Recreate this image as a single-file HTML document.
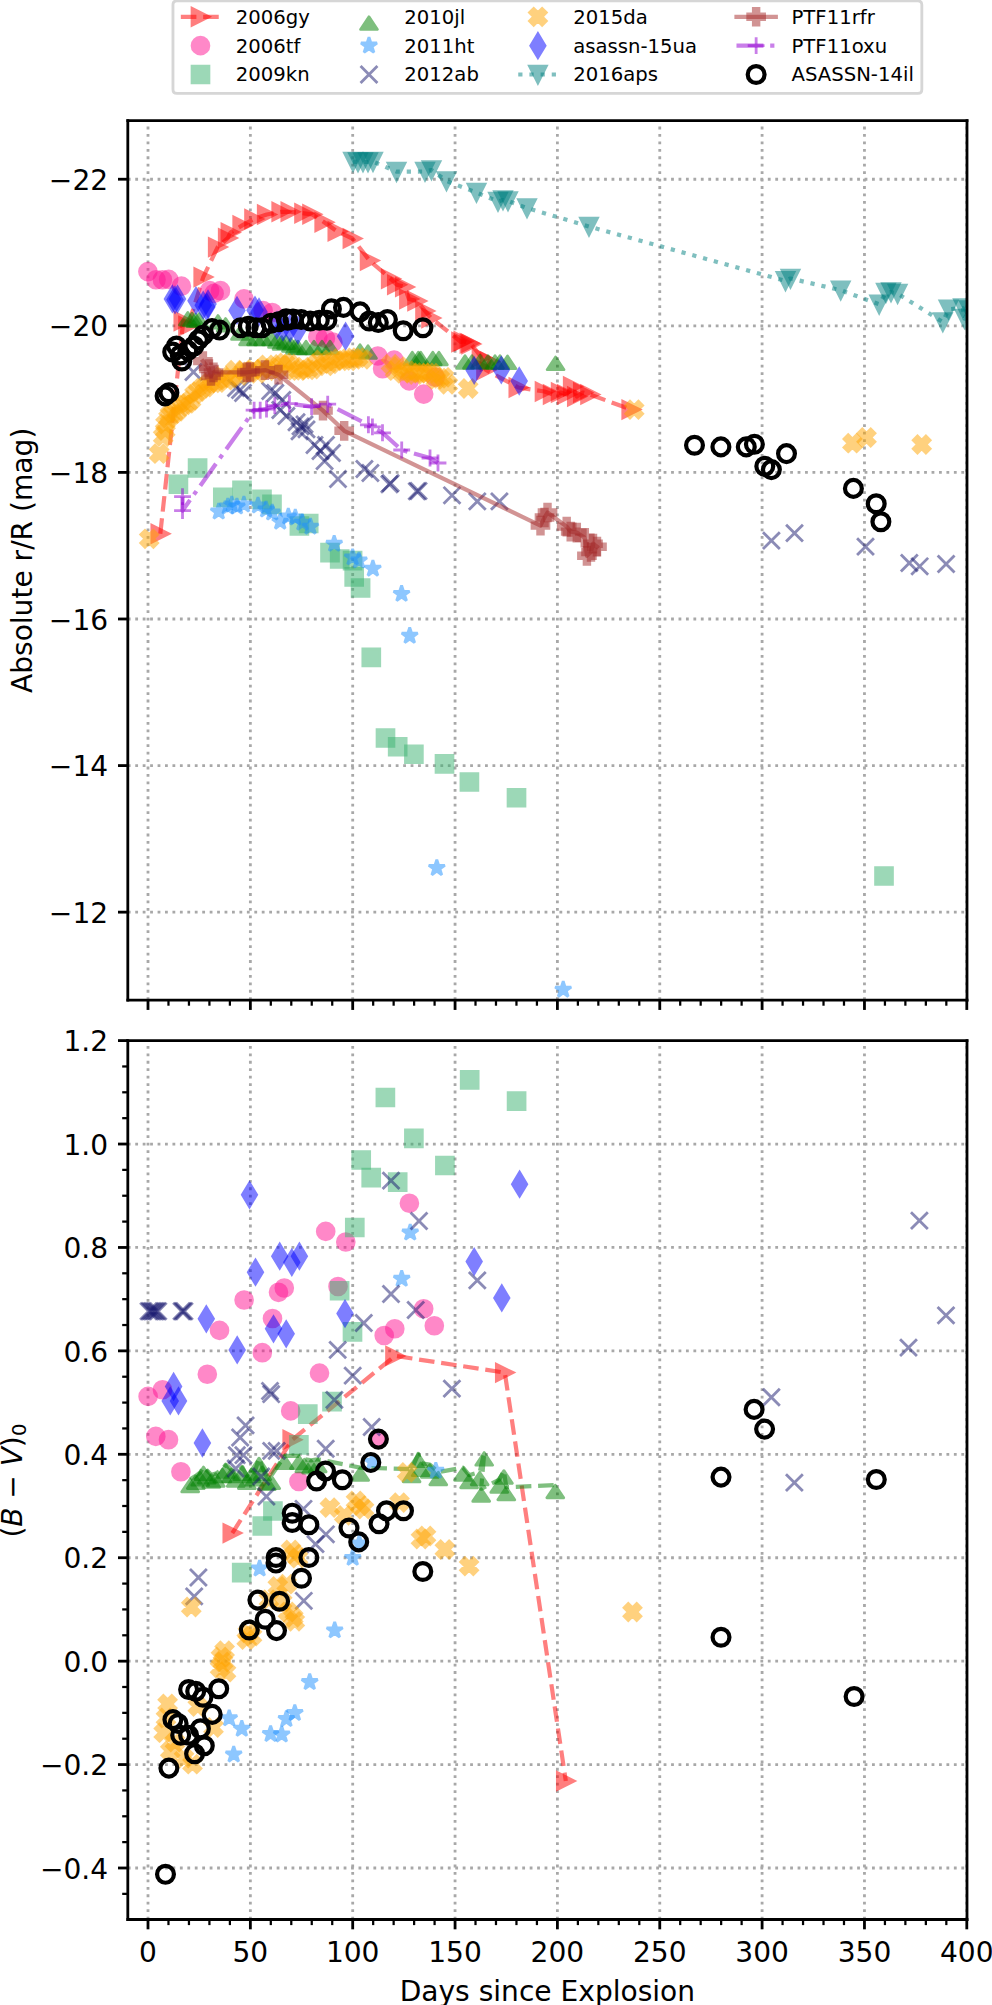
<!DOCTYPE html>
<html lang="en"><head><meta charset="utf-8"><title>Light curves and colour evolution</title>
<style>html,body{margin:0;padding:0;background:#fff}body{width:992px;height:2005px;overflow:hidden}svg{display:block}text{font-family:"DejaVu Sans","Liberation Sans",sans-serif}
.k0{stroke:#000000}.k1{stroke:#000000;stroke-width:0.8}.k2{fill:#ff0000;stroke:#ff0000;stroke-linejoin:miter;opacity:0.5}.k3{fill:#ff1493;stroke:#ff1493;opacity:0.5}.k4{fill:#3cb371;stroke:#3cb371;stroke-linejoin:miter;opacity:0.5}.k5{fill:#008000;stroke:#008000;opacity:0.5}.k6{fill:#1e90ff;stroke:#1e90ff;stroke-linejoin:bevel;opacity:0.5}.k7{fill:#191970;stroke:#191970;opacity:0.5}.k8{fill:#ffa500;stroke:#ffa500;stroke-linejoin:miter;opacity:0.5}.k9{fill:#0000ff;stroke:#0000ff;stroke-linejoin:miter;opacity:0.5}.k10{fill:#008080;stroke:#008080;stroke-linejoin:miter;opacity:0.5}.k11{fill:#a52a2a;stroke:#a52a2a;stroke-linejoin:miter;opacity:0.5}.k12{fill:#9400d3;stroke:#9400d3;opacity:0.5}.k13{stroke:#000000;stroke-width:1.5;fill:none}</style>
</head><body>
<svg width="992" height="2005" viewBox="0 0 353.234421 713.946588" version="1.1">
 <defs>
  <style type="text/css">*{stroke-linejoin: round; stroke-linecap: butt}</style>
 </defs>
 <g id="figure_1">
  <g id="patch_1">
   <path d="M 0 713.95 L 353.23 713.95 L 353.23 0 L 0 0 z" style="fill: #ffffff"/>
  </g>
  <g id="axes_1">
   <g id="patch_2">
    <path d="M 45.51 356.12 L 344.33 356.12 L 344.33 42.94 L 45.51 42.94 z" style="fill: #ffffff"/>
   </g>
   <g id="matplotlib.axis_1">
    <g id="xtick_1">
     <g id="line2d_1">
      <path d="M 52.7 356.12 L 52.7 42.94" clip-path="url(#p0af4753f2d)" style="fill: none; stroke-dasharray: 1,1.65; stroke-dashoffset: 0; stroke: #a8a8a8"/>
     </g>
     <g id="line2d_2">
      <g>
       <path class="k0" d="M 0 0 L 0 3.5" transform="translate(52.7 356.12)"/>
      </g>
     </g>
    </g>
    <g id="xtick_2">
     <g id="line2d_3">
      <path d="M 89.15 356.12 L 89.15 42.94" clip-path="url(#p0af4753f2d)" style="fill: none; stroke-dasharray: 1,1.65; stroke-dashoffset: 0; stroke: #a8a8a8"/>
     </g>
     <g id="line2d_4">
      <g>
       <path class="k0" d="M 0 0 L 0 3.5" transform="translate(89.15 356.12)"/>
      </g>
     </g>
    </g>
    <g id="xtick_3">
     <g id="line2d_5">
      <path d="M 125.59 356.12 L 125.59 42.94" clip-path="url(#p0af4753f2d)" style="fill: none; stroke-dasharray: 1,1.65; stroke-dashoffset: 0; stroke: #a8a8a8"/>
     </g>
     <g id="line2d_6">
      <g>
       <path class="k0" d="M 0 0 L 0 3.5" transform="translate(125.59 356.12)"/>
      </g>
     </g>
    </g>
    <g id="xtick_4">
     <g id="line2d_7">
      <path d="M 162.04 356.12 L 162.04 42.94" clip-path="url(#p0af4753f2d)" style="fill: none; stroke-dasharray: 1,1.65; stroke-dashoffset: 0; stroke: #a8a8a8"/>
     </g>
     <g id="line2d_8">
      <g>
       <path class="k0" d="M 0 0 L 0 3.5" transform="translate(162.04 356.12)"/>
      </g>
     </g>
    </g>
    <g id="xtick_5">
     <g id="line2d_9">
      <path d="M 198.48 356.12 L 198.48 42.94" clip-path="url(#p0af4753f2d)" style="fill: none; stroke-dasharray: 1,1.65; stroke-dashoffset: 0; stroke: #a8a8a8"/>
     </g>
     <g id="line2d_10">
      <g>
       <path class="k0" d="M 0 0 L 0 3.5" transform="translate(198.48 356.12)"/>
      </g>
     </g>
    </g>
    <g id="xtick_6">
     <g id="line2d_11">
      <path d="M 234.93 356.12 L 234.93 42.94" clip-path="url(#p0af4753f2d)" style="fill: none; stroke-dasharray: 1,1.65; stroke-dashoffset: 0; stroke: #a8a8a8"/>
     </g>
     <g id="line2d_12">
      <g>
       <path class="k0" d="M 0 0 L 0 3.5" transform="translate(234.93 356.12)"/>
      </g>
     </g>
    </g>
    <g id="xtick_7">
     <g id="line2d_13">
      <path d="M 271.37 356.12 L 271.37 42.94" clip-path="url(#p0af4753f2d)" style="fill: none; stroke-dasharray: 1,1.65; stroke-dashoffset: 0; stroke: #a8a8a8"/>
     </g>
     <g id="line2d_14">
      <g>
       <path class="k0" d="M 0 0 L 0 3.5" transform="translate(271.37 356.12)"/>
      </g>
     </g>
    </g>
    <g id="xtick_8">
     <g id="line2d_15">
      <path d="M 307.82 356.12 L 307.82 42.94" clip-path="url(#p0af4753f2d)" style="fill: none; stroke-dasharray: 1,1.65; stroke-dashoffset: 0; stroke: #a8a8a8"/>
     </g>
     <g id="line2d_16">
      <g>
       <path class="k0" d="M 0 0 L 0 3.5" transform="translate(307.82 356.12)"/>
      </g>
     </g>
    </g>
    <g id="xtick_9">
     <g id="line2d_17">
      <path d="M 344.26 356.12 L 344.26 42.94" clip-path="url(#p0af4753f2d)" style="fill: none; stroke-dasharray: 1,1.65; stroke-dashoffset: 0; stroke: #a8a8a8"/>
     </g>
     <g id="line2d_18">
      <g>
       <path class="k0" d="M 0 0 L 0 3.5" transform="translate(344.26 356.12)"/>
      </g>
     </g>
    </g>
    <g id="xtick_10">
     <g id="line2d_19">
      <g>
       <path class="k1" d="M 0 0 L 0 2" transform="translate(59.99 356.12)"/>
      </g>
     </g>
    </g>
    <g id="xtick_11">
     <g id="line2d_20">
      <g>
       <path class="k1" d="M 0 0 L 0 2" transform="translate(67.28 356.12)"/>
      </g>
     </g>
    </g>
    <g id="xtick_12">
     <g id="line2d_21">
      <g>
       <path class="k1" d="M 0 0 L 0 2" transform="translate(74.57 356.12)"/>
      </g>
     </g>
    </g>
    <g id="xtick_13">
     <g id="line2d_22">
      <g>
       <path class="k1" d="M 0 0 L 0 2" transform="translate(81.86 356.12)"/>
      </g>
     </g>
    </g>
    <g id="xtick_14">
     <g id="line2d_23">
      <g>
       <path class="k1" d="M 0 0 L 0 2" transform="translate(96.43 356.12)"/>
      </g>
     </g>
    </g>
    <g id="xtick_15">
     <g id="line2d_24">
      <g>
       <path class="k1" d="M 0 0 L 0 2" transform="translate(103.72 356.12)"/>
      </g>
     </g>
    </g>
    <g id="xtick_16">
     <g id="line2d_25">
      <g>
       <path class="k1" d="M 0 0 L 0 2" transform="translate(111.01 356.12)"/>
      </g>
     </g>
    </g>
    <g id="xtick_17">
     <g id="line2d_26">
      <g>
       <path class="k1" d="M 0 0 L 0 2" transform="translate(118.3 356.12)"/>
      </g>
     </g>
    </g>
    <g id="xtick_18">
     <g id="line2d_27">
      <g>
       <path class="k1" d="M 0 0 L 0 2" transform="translate(132.88 356.12)"/>
      </g>
     </g>
    </g>
    <g id="xtick_19">
     <g id="line2d_28">
      <g>
       <path class="k1" d="M 0 0 L 0 2" transform="translate(140.17 356.12)"/>
      </g>
     </g>
    </g>
    <g id="xtick_20">
     <g id="line2d_29">
      <g>
       <path class="k1" d="M 0 0 L 0 2" transform="translate(147.46 356.12)"/>
      </g>
     </g>
    </g>
    <g id="xtick_21">
     <g id="line2d_30">
      <g>
       <path class="k1" d="M 0 0 L 0 2" transform="translate(154.75 356.12)"/>
      </g>
     </g>
    </g>
    <g id="xtick_22">
     <g id="line2d_31">
      <g>
       <path class="k1" d="M 0 0 L 0 2" transform="translate(169.32 356.12)"/>
      </g>
     </g>
    </g>
    <g id="xtick_23">
     <g id="line2d_32">
      <g>
       <path class="k1" d="M 0 0 L 0 2" transform="translate(176.61 356.12)"/>
      </g>
     </g>
    </g>
    <g id="xtick_24">
     <g id="line2d_33">
      <g>
       <path class="k1" d="M 0 0 L 0 2" transform="translate(183.9 356.12)"/>
      </g>
     </g>
    </g>
    <g id="xtick_25">
     <g id="line2d_34">
      <g>
       <path class="k1" d="M 0 0 L 0 2" transform="translate(191.19 356.12)"/>
      </g>
     </g>
    </g>
    <g id="xtick_26">
     <g id="line2d_35">
      <g>
       <path class="k1" d="M 0 0 L 0 2" transform="translate(205.77 356.12)"/>
      </g>
     </g>
    </g>
    <g id="xtick_27">
     <g id="line2d_36">
      <g>
       <path class="k1" d="M 0 0 L 0 2" transform="translate(213.06 356.12)"/>
      </g>
     </g>
    </g>
    <g id="xtick_28">
     <g id="line2d_37">
      <g>
       <path class="k1" d="M 0 0 L 0 2" transform="translate(220.35 356.12)"/>
      </g>
     </g>
    </g>
    <g id="xtick_29">
     <g id="line2d_38">
      <g>
       <path class="k1" d="M 0 0 L 0 2" transform="translate(227.64 356.12)"/>
      </g>
     </g>
    </g>
    <g id="xtick_30">
     <g id="line2d_39">
      <g>
       <path class="k1" d="M 0 0 L 0 2" transform="translate(242.21 356.12)"/>
      </g>
     </g>
    </g>
    <g id="xtick_31">
     <g id="line2d_40">
      <g>
       <path class="k1" d="M 0 0 L 0 2" transform="translate(249.5 356.12)"/>
      </g>
     </g>
    </g>
    <g id="xtick_32">
     <g id="line2d_41">
      <g>
       <path class="k1" d="M 0 0 L 0 2" transform="translate(256.79 356.12)"/>
      </g>
     </g>
    </g>
    <g id="xtick_33">
     <g id="line2d_42">
      <g>
       <path class="k1" d="M 0 0 L 0 2" transform="translate(264.08 356.12)"/>
      </g>
     </g>
    </g>
    <g id="xtick_34">
     <g id="line2d_43">
      <g>
       <path class="k1" d="M 0 0 L 0 2" transform="translate(278.66 356.12)"/>
      </g>
     </g>
    </g>
    <g id="xtick_35">
     <g id="line2d_44">
      <g>
       <path class="k1" d="M 0 0 L 0 2" transform="translate(285.95 356.12)"/>
      </g>
     </g>
    </g>
    <g id="xtick_36">
     <g id="line2d_45">
      <g>
       <path class="k1" d="M 0 0 L 0 2" transform="translate(293.24 356.12)"/>
      </g>
     </g>
    </g>
    <g id="xtick_37">
     <g id="line2d_46">
      <g>
       <path class="k1" d="M 0 0 L 0 2" transform="translate(300.53 356.12)"/>
      </g>
     </g>
    </g>
    <g id="xtick_38">
     <g id="line2d_47">
      <g>
       <path class="k1" d="M 0 0 L 0 2" transform="translate(315.11 356.12)"/>
      </g>
     </g>
    </g>
    <g id="xtick_39">
     <g id="line2d_48">
      <g>
       <path class="k1" d="M 0 0 L 0 2" transform="translate(322.39 356.12)"/>
      </g>
     </g>
    </g>
    <g id="xtick_40">
     <g id="line2d_49">
      <g>
       <path class="k1" d="M 0 0 L 0 2" transform="translate(329.68 356.12)"/>
      </g>
     </g>
    </g>
    <g id="xtick_41">
     <g id="line2d_50">
      <g>
       <path class="k1" d="M 0 0 L 0 2" transform="translate(336.97 356.12)"/>
      </g>
     </g>
    </g>
   </g>
   <g id="matplotlib.axis_2">
    <g id="ytick_1">
     <g id="line2d_51">
      <path d="M 45.51 63.82 L 344.33 63.82" clip-path="url(#p0af4753f2d)" style="fill: none; stroke-dasharray: 1,1.65; stroke-dashoffset: 0; stroke: #a8a8a8"/>
     </g>
     <g id="line2d_52">
      <g>
       <path class="k0" d="M 0 0 L -3.5 0" transform="translate(45.51 63.82)"/>
      </g>
     </g>
     <g id="text_1">
      <text style="font-size: 10px; font-family: 'DejaVu Sans', 'Liberation Sans', sans-serif; text-anchor: end" x="38.51" y="67.62"  transform="rotate(0 38.51 67.62)">−22</text>
     </g>
    </g>
    <g id="ytick_2">
     <g id="line2d_53">
      <path d="M 45.51 116.02 L 344.33 116.02" clip-path="url(#p0af4753f2d)" style="fill: none; stroke-dasharray: 1,1.65; stroke-dashoffset: 0; stroke: #a8a8a8"/>
     </g>
     <g id="line2d_54">
      <g>
       <path class="k0" d="M 0 0 L -3.5 0" transform="translate(45.51 116.02)"/>
      </g>
     </g>
     <g id="text_2">
      <text style="font-size: 10px; font-family: 'DejaVu Sans', 'Liberation Sans', sans-serif; text-anchor: end" x="38.51" y="119.82"  transform="rotate(0 38.51 119.82)">−20</text>
     </g>
    </g>
    <g id="ytick_3">
     <g id="line2d_55">
      <path d="M 45.51 168.21 L 344.33 168.21" clip-path="url(#p0af4753f2d)" style="fill: none; stroke-dasharray: 1,1.65; stroke-dashoffset: 0; stroke: #a8a8a8"/>
     </g>
     <g id="line2d_56">
      <g>
       <path class="k0" d="M 0 0 L -3.5 0" transform="translate(45.51 168.21)"/>
      </g>
     </g>
     <g id="text_3">
      <text style="font-size: 10px; font-family: 'DejaVu Sans', 'Liberation Sans', sans-serif; text-anchor: end" x="38.51" y="172.01"  transform="rotate(0 38.51 172.01)">−18</text>
     </g>
    </g>
    <g id="ytick_4">
     <g id="line2d_57">
      <path d="M 45.51 220.41 L 344.33 220.41" clip-path="url(#p0af4753f2d)" style="fill: none; stroke-dasharray: 1,1.65; stroke-dashoffset: 0; stroke: #a8a8a8"/>
     </g>
     <g id="line2d_58">
      <g>
       <path class="k0" d="M 0 0 L -3.5 0" transform="translate(45.51 220.41)"/>
      </g>
     </g>
     <g id="text_4">
      <text style="font-size: 10px; font-family: 'DejaVu Sans', 'Liberation Sans', sans-serif; text-anchor: end" x="38.51" y="224.21"  transform="rotate(0 38.51 224.21)">−16</text>
     </g>
    </g>
    <g id="ytick_5">
     <g id="line2d_59">
      <path d="M 45.51 272.61 L 344.33 272.61" clip-path="url(#p0af4753f2d)" style="fill: none; stroke-dasharray: 1,1.65; stroke-dashoffset: 0; stroke: #a8a8a8"/>
     </g>
     <g id="line2d_60">
      <g>
       <path class="k0" d="M 0 0 L -3.5 0" transform="translate(45.51 272.61)"/>
      </g>
     </g>
     <g id="text_5">
      <text style="font-size: 10px; font-family: 'DejaVu Sans', 'Liberation Sans', sans-serif; text-anchor: end" x="38.51" y="276.4"  transform="rotate(0 38.51 276.40)">−14</text>
     </g>
    </g>
    <g id="ytick_6">
     <g id="line2d_61">
      <path d="M 45.51 324.8 L 344.33 324.8" clip-path="url(#p0af4753f2d)" style="fill: none; stroke-dasharray: 1,1.65; stroke-dashoffset: 0; stroke: #a8a8a8"/>
     </g>
     <g id="line2d_62">
      <g>
       <path class="k0" d="M 0 0 L -3.5 0" transform="translate(45.51 324.8)"/>
      </g>
     </g>
     <g id="text_6">
      <text style="font-size: 10px; font-family: 'DejaVu Sans', 'Liberation Sans', sans-serif; text-anchor: end" x="38.51" y="328.6"  transform="rotate(0 38.51 328.60)">−12</text>
     </g>
    </g>
    <g id="text_7">
     <text style="font-size: 10px; font-family: 'DejaVu Sans', 'Liberation Sans', sans-serif; text-anchor: middle" x="11.51" y="199.53" transform="rotate(-90 11.51 199.53)">Absolute r/R (mag)</text>
    </g>
   </g>
   <g id="line2d_63">
    <path d="M 57.08 190.08 L 65.27 114.3 L 66.94 116.08 L 72.36 98.67 L 77.52 87.99 L 81.08 84.78 L 82.04 82.82 L 86.24 80.26 L 90.45 77.98 L 94.97 76.38 L 100.13 75.42 L 103.37 75.42 L 108.25 75.95 L 111.1 76.31 L 115.44 79.16 L 120.11 82.4 L 125.48 84.93 L 131.61 92.8 L 139.12 99.28 L 141.29 101.41 L 144.14 102.16 L 145.6 106.47 L 148.49 107.18 L 151.34 110.74 L 153.47 113.23 L 164.15 121.78 L 164.97 121.53 L 167.15 122.24 L 167.72 122.49 L 171.45 127.26 L 174.3 128.72 L 173.06 131.75 L 184.56 137.98 L 193.89 139.41 L 196.77 140.47 L 199.62 139.76 L 201.79 140.47 L 203.93 137.63 L 205.39 141.19 L 207.53 139.76 L 210.09 140.47 L 224.76 145.85" clip-path="url(#p0af4753f2d)" style="fill: none; stroke-dasharray: 5.55,2.4; stroke-dashoffset: 0; stroke: #ff0000; stroke-opacity: 0.5; stroke-width: 1.5"/>
    <g clip-path="url(#p0af4753f2d)">
     <path class="k2" d="M 3 0 L -3 -3 L -3 3 z" transform="translate(57.08 190.08)"/>
     <path class="k2" d="M 3 0 L -3 -3 L -3 3 z" transform="translate(65.27 114.3)"/>
     <path class="k2" d="M 3 0 L -3 -3 L -3 3 z" transform="translate(66.94 116.08)"/>
     <path class="k2" d="M 3 0 L -3 -3 L -3 3 z" transform="translate(72.36 98.67)"/>
     <path class="k2" d="M 3 0 L -3 -3 L -3 3 z" transform="translate(77.52 87.99)"/>
     <path class="k2" d="M 3 0 L -3 -3 L -3 3 z" transform="translate(81.08 84.78)"/>
     <path class="k2" d="M 3 0 L -3 -3 L -3 3 z" transform="translate(82.04 82.82)"/>
     <path class="k2" d="M 3 0 L -3 -3 L -3 3 z" transform="translate(86.24 80.26)"/>
     <path class="k2" d="M 3 0 L -3 -3 L -3 3 z" transform="translate(90.45 77.98)"/>
     <path class="k2" d="M 3 0 L -3 -3 L -3 3 z" transform="translate(94.97 76.38)"/>
     <path class="k2" d="M 3 0 L -3 -3 L -3 3 z" transform="translate(100.13 75.42)"/>
     <path class="k2" d="M 3 0 L -3 -3 L -3 3 z" transform="translate(103.37 75.42)"/>
     <path class="k2" d="M 3 0 L -3 -3 L -3 3 z" transform="translate(108.25 75.95)"/>
     <path class="k2" d="M 3 0 L -3 -3 L -3 3 z" transform="translate(111.1 76.31)"/>
     <path class="k2" d="M 3 0 L -3 -3 L -3 3 z" transform="translate(115.44 79.16)"/>
     <path class="k2" d="M 3 0 L -3 -3 L -3 3 z" transform="translate(120.11 82.4)"/>
     <path class="k2" d="M 3 0 L -3 -3 L -3 3 z" transform="translate(125.48 84.93)"/>
     <path class="k2" d="M 3 0 L -3 -3 L -3 3 z" transform="translate(131.61 92.8)"/>
     <path class="k2" d="M 3 0 L -3 -3 L -3 3 z" transform="translate(139.12 99.28)"/>
     <path class="k2" d="M 3 0 L -3 -3 L -3 3 z" transform="translate(141.29 101.41)"/>
     <path class="k2" d="M 3 0 L -3 -3 L -3 3 z" transform="translate(144.14 102.16)"/>
     <path class="k2" d="M 3 0 L -3 -3 L -3 3 z" transform="translate(145.6 106.47)"/>
     <path class="k2" d="M 3 0 L -3 -3 L -3 3 z" transform="translate(148.49 107.18)"/>
     <path class="k2" d="M 3 0 L -3 -3 L -3 3 z" transform="translate(151.34 110.74)"/>
     <path class="k2" d="M 3 0 L -3 -3 L -3 3 z" transform="translate(153.47 113.23)"/>
     <path class="k2" d="M 3 0 L -3 -3 L -3 3 z" transform="translate(164.15 121.78)"/>
     <path class="k2" d="M 3 0 L -3 -3 L -3 3 z" transform="translate(164.97 121.53)"/>
     <path class="k2" d="M 3 0 L -3 -3 L -3 3 z" transform="translate(167.15 122.24)"/>
     <path class="k2" d="M 3 0 L -3 -3 L -3 3 z" transform="translate(167.72 122.49)"/>
     <path class="k2" d="M 3 0 L -3 -3 L -3 3 z" transform="translate(171.45 127.26)"/>
     <path class="k2" d="M 3 0 L -3 -3 L -3 3 z" transform="translate(174.3 128.72)"/>
     <path class="k2" d="M 3 0 L -3 -3 L -3 3 z" transform="translate(173.06 131.75)"/>
     <path class="k2" d="M 3 0 L -3 -3 L -3 3 z" transform="translate(184.56 137.98)"/>
     <path class="k2" d="M 3 0 L -3 -3 L -3 3 z" transform="translate(193.89 139.41)"/>
     <path class="k2" d="M 3 0 L -3 -3 L -3 3 z" transform="translate(196.77 140.47)"/>
     <path class="k2" d="M 3 0 L -3 -3 L -3 3 z" transform="translate(199.62 139.76)"/>
     <path class="k2" d="M 3 0 L -3 -3 L -3 3 z" transform="translate(201.79 140.47)"/>
     <path class="k2" d="M 3 0 L -3 -3 L -3 3 z" transform="translate(203.93 137.63)"/>
     <path class="k2" d="M 3 0 L -3 -3 L -3 3 z" transform="translate(205.39 141.19)"/>
     <path class="k2" d="M 3 0 L -3 -3 L -3 3 z" transform="translate(207.53 139.76)"/>
     <path class="k2" d="M 3 0 L -3 -3 L -3 3 z" transform="translate(210.09 140.47)"/>
     <path class="k2" d="M 3 0 L -3 -3 L -3 3 z" transform="translate(224.76 145.85)"/>
    </g>
   </g>
   <g id="line2d_64">
    <g clip-path="url(#p0af4753f2d)">
     <circle class="k3" cx="52.66" cy="96.71" r="3"/>
     <circle class="k3" cx="55.55" cy="99.63" r="3"/>
     <circle class="k3" cx="57.83" cy="99.63" r="3"/>
     <circle class="k3" cx="60.07" cy="99.49" r="3"/>
     <circle class="k3" cx="64.59" cy="101.91" r="3"/>
     <circle class="k3" cx="74.64" cy="103.51" r="3"/>
     <circle class="k3" cx="76.24" cy="104.47" r="3"/>
     <circle class="k3" cx="78.52" cy="103.51" r="3"/>
     <circle class="k3" cx="86.88" cy="106.43" r="3"/>
     <circle class="k3" cx="93.69" cy="110.6" r="3"/>
     <circle class="k3" cx="96.93" cy="111.28" r="3"/>
     <circle class="k3" cx="113.16" cy="119.96" r="3"/>
     <circle class="k3" cx="115.87" cy="120.5" r="3"/>
     <circle class="k3" cx="118.54" cy="121.85" r="3"/>
     <circle class="k3" cx="134.53" cy="126.77" r="3"/>
     <circle class="k3" cx="136.24" cy="131.29" r="3"/>
     <circle class="k3" cx="140.33" cy="128.26" r="3"/>
     <circle class="k3" cx="145.71" cy="135.6" r="3"/>
     <circle class="k3" cx="150.87" cy="140.33" r="3"/>
     <circle class="k3" cx="154.97" cy="134.31" r="3"/>
    </g>
   </g>
   <g id="line2d_65">
    <g clip-path="url(#p0af4753f2d)">
     <path class="k4" d="M -3 3 L 3 3 L 3 -3 L -3 -3 z" transform="translate(63.53 172.42)"/>
     <path class="k4" d="M -3 3 L 3 3 L 3 -3 L -3 -3 z" transform="translate(70.36 166.65)"/>
     <path class="k4" d="M -3 3 L 3 3 L 3 -3 L -3 -3 z" transform="translate(79.34 177.08)"/>
     <path class="k4" d="M -3 3 L 3 3 L 3 -3 L -3 -3 z" transform="translate(86.17 174.59)"/>
     <path class="k4" d="M -3 3 L 3 3 L 3 -3 L -3 -3 z" transform="translate(93.29 177.83)"/>
     <path class="k4" d="M -3 3 L 3 3 L 3 -3 L -3 -3 z" transform="translate(96.85 179.61)"/>
     <path class="k4" d="M -3 3 L 3 3 L 3 -3 L -3 -3 z" transform="translate(106.61 187.3)"/>
     <path class="k4" d="M -3 3 L 3 3 L 3 -3 L -3 -3 z" transform="translate(109.92 186.41)"/>
     <path class="k4" d="M -3 3 L 3 3 L 3 -3 L -3 -3 z" transform="translate(117.51 196.77)"/>
     <path class="k4" d="M -3 3 L 3 3 L 3 -3 L -3 -3 z" transform="translate(120.96 199.05)"/>
     <path class="k4" d="M -3 3 L 3 3 L 3 -3 L -3 -3 z" transform="translate(125.55 199.62)"/>
     <path class="k4" d="M -3 3 L 3 3 L 3 -3 L -3 -3 z" transform="translate(126.12 205.39)"/>
     <path class="k4" d="M -3 3 L 3 3 L 3 -3 L -3 -3 z" transform="translate(128.4 209.38)"/>
     <path class="k4" d="M -3 3 L 3 3 L 3 -3 L -3 -3 z" transform="translate(132.21 234.09)"/>
     <path class="k4" d="M -3 3 L 3 3 L 3 -3 L -3 -3 z" transform="translate(137.27 262.79)"/>
     <path class="k4" d="M -3 3 L 3 3 L 3 -3 L -3 -3 z" transform="translate(141.61 265.92)"/>
     <path class="k4" d="M -3 3 L 3 3 L 3 -3 L -3 -3 z" transform="translate(147.38 268.56)"/>
     <path class="k4" d="M -3 3 L 3 3 L 3 -3 L -3 -3 z" transform="translate(158.28 272.01)"/>
     <path class="k4" d="M -3 3 L 3 3 L 3 -3 L -3 -3 z" transform="translate(167.15 278.46)"/>
     <path class="k4" d="M -3 3 L 3 3 L 3 -3 L -3 -3 z" transform="translate(183.92 284.05)"/>
     <path class="k4" d="M -3 3 L 3 3 L 3 -3 L -3 -3 z" transform="translate(314.78 311.93)"/>
    </g>
   </g>
   <g id="line2d_66">
    <g clip-path="url(#p0af4753f2d)">
     <path class="k5" d="M -3 4.5 L 0 0 L 3 4.5 z" transform="translate(66.87 111.26)"/>
     <path class="k5" d="M -3 4.5 L 0 0 L 3 4.5 z" transform="translate(68.37 111.54)"/>
     <path class="k5" d="M -3 4.5 L 0 0 L 3 4.5 z" transform="translate(69.58 111.79)"/>
     <path class="k5" d="M -3 4.5 L 0 0 L 3 4.5 z" transform="translate(70.86 111.72)"/>
     <path class="k5" d="M -3 4.5 L 0 0 L 3 4.5 z" transform="translate(77.63 112.36)"/>
     <path class="k5" d="M -3 4.5 L 0 0 L 3 4.5 z" transform="translate(80.33 113.43)"/>
     <path class="k5" d="M -3 4.5 L 0 0 L 3 4.5 z" transform="translate(85.46 116.35)"/>
     <path class="k5" d="M -3 4.5 L 0 0 L 3 4.5 z" transform="translate(88.31 118.27)"/>
     <path class="k5" d="M -3 4.5 L 0 0 L 3 4.5 z" transform="translate(91.16 118.27)"/>
     <path class="k5" d="M -3 4.5 L 0 0 L 3 4.5 z" transform="translate(93.65 118.27)"/>
     <path class="k5" d="M -3 4.5 L 0 0 L 3 4.5 z" transform="translate(96.5 118.27)"/>
     <path class="k5" d="M -3 4.5 L 0 0 L 3 4.5 z" transform="translate(98.64 119.2)"/>
     <path class="k5" d="M -3 4.5 L 0 0 L 3 4.5 z" transform="translate(100.27 119.91)"/>
     <path class="k5" d="M -3 4.5 L 0 0 L 3 4.5 z" transform="translate(101.84 119.63)"/>
     <path class="k5" d="M -3 4.5 L 0 0 L 3 4.5 z" transform="translate(103.62 120.62)"/>
     <path class="k5" d="M -3 4.5 L 0 0 L 3 4.5 z" transform="translate(105.04 121.34)"/>
     <path class="k5" d="M -3 4.5 L 0 0 L 3 4.5 z" transform="translate(106.11 121.51)"/>
     <path class="k5" d="M -3 4.5 L 0 0 L 3 4.5 z" transform="translate(108.96 121.51)"/>
     <path class="k5" d="M -3 4.5 L 0 0 L 3 4.5 z" transform="translate(111.81 121.51)"/>
     <path class="k5" d="M -3 4.5 L 0 0 L 3 4.5 z" transform="translate(114.66 121.51)"/>
     <path class="k5" d="M -3 4.5 L 0 0 L 3 4.5 z" transform="translate(117.51 121.51)"/>
     <path class="k5" d="M -3 4.5 L 0 0 L 3 4.5 z" transform="translate(128.19 122.76)"/>
     <path class="k5" d="M -3 4.5 L 0 0 L 3 4.5 z" transform="translate(131.04 123.12)"/>
     <path class="k5" d="M -3 4.5 L 0 0 L 3 4.5 z" transform="translate(146.81 125.43)"/>
     <path class="k5" d="M -3 4.5 L 0 0 L 3 4.5 z" transform="translate(148.95 125.43)"/>
     <path class="k5" d="M -3 4.5 L 0 0 L 3 4.5 z" transform="translate(149.8 125.43)"/>
     <path class="k5" d="M -3 4.5 L 0 0 L 3 4.5 z" transform="translate(154.11 125.43)"/>
     <path class="k5" d="M -3 4.5 L 0 0 L 3 4.5 z" transform="translate(156.28 125.43)"/>
     <path class="k5" d="M -3 4.5 L 0 0 L 3 4.5 z" transform="translate(165.58 126.68)"/>
     <path class="k5" d="M -3 4.5 L 0 0 L 3 4.5 z" transform="translate(168.07 126.68)"/>
     <path class="k5" d="M -3 4.5 L 0 0 L 3 4.5 z" transform="translate(170.92 126.5)"/>
     <path class="k5" d="M -3 4.5 L 0 0 L 3 4.5 z" transform="translate(173.77 126.68)"/>
     <path class="k5" d="M -3 4.5 L 0 0 L 3 4.5 z" transform="translate(176.26 126.68)"/>
     <path class="k5" d="M -3 4.5 L 0 0 L 3 4.5 z" transform="translate(178.04 126.68)"/>
     <path class="k5" d="M -3 4.5 L 0 0 L 3 4.5 z" transform="translate(180.71 126.78)"/>
     <path class="k5" d="M -3 4.5 L 0 0 L 3 4.5 z" transform="translate(197.84 127.14)"/>
    </g>
   </g>
   <g id="line2d_67">
    <g clip-path="url(#p0af4753f2d)">
     <path class="k6" d="M 0 -3 L -0.67 -0.93 L -2.85 -0.93 L -1.09 0.35 L -1.76 2.43 L -0 1.15 L 1.76 2.43 L 1.09 0.35 L 2.85 -0.93 L 0.67 -0.93 z" transform="translate(77.88 182.17)"/>
     <path class="k6" d="M 0 -3 L -0.67 -0.93 L -2.85 -0.93 L -1.09 0.35 L -1.76 2.43 L -0 1.15 L 1.76 2.43 L 1.09 0.35 L 2.85 -0.93 L 0.67 -0.93 z" transform="translate(81.12 180.36)"/>
     <path class="k6" d="M 0 -3 L -0.67 -0.93 L -2.85 -0.93 L -1.09 0.35 L -1.76 2.43 L -0 1.15 L 1.76 2.43 L 1.09 0.35 L 2.85 -0.93 L 0.67 -0.93 z" transform="translate(82.54 179.64)"/>
     <path class="k6" d="M 0 -3 L -0.67 -0.93 L -2.85 -0.93 L -1.09 0.35 L -1.76 2.43 L -0 1.15 L 1.76 2.43 L 1.09 0.35 L 2.85 -0.93 L 0.67 -0.93 z" transform="translate(84.36 180.36)"/>
     <path class="k6" d="M 0 -3 L -0.67 -0.93 L -2.85 -0.93 L -1.09 0.35 L -1.76 2.43 L -0 1.15 L 1.76 2.43 L 1.09 0.35 L 2.85 -0.93 L 0.67 -0.93 z" transform="translate(86.85 179.64)"/>
     <path class="k6" d="M 0 -3 L -0.67 -0.93 L -2.85 -0.93 L -1.09 0.35 L -1.76 2.43 L -0 1.15 L 1.76 2.43 L 1.09 0.35 L 2.85 -0.93 L 0.67 -0.93 z" transform="translate(91.87 180)"/>
     <path class="k6" d="M 0 -3 L -0.67 -0.93 L -2.85 -0.93 L -1.09 0.35 L -1.76 2.43 L -0 1.15 L 1.76 2.43 L 1.09 0.35 L 2.85 -0.93 L 0.67 -0.93 z" transform="translate(94.75 181.46)"/>
     <path class="k6" d="M 0 -3 L -0.67 -0.93 L -2.85 -0.93 L -1.09 0.35 L -1.76 2.43 L -0 1.15 L 1.76 2.43 L 1.09 0.35 L 2.85 -0.93 L 0.67 -0.93 z" transform="translate(96.93 182.53)"/>
     <path class="k6" d="M 0 -3 L -0.67 -0.93 L -2.85 -0.93 L -1.09 0.35 L -1.76 2.43 L -0 1.15 L 1.76 2.43 L 1.09 0.35 L 2.85 -0.93 L 0.67 -0.93 z" transform="translate(99.77 185.77)"/>
     <path class="k6" d="M 0 -3 L -0.67 -0.93 L -2.85 -0.93 L -1.09 0.35 L -1.76 2.43 L -0 1.15 L 1.76 2.43 L 1.09 0.35 L 2.85 -0.93 L 0.67 -0.93 z" transform="translate(102.66 183.95)"/>
     <path class="k6" d="M 0 -3 L -0.67 -0.93 L -2.85 -0.93 L -1.09 0.35 L -1.76 2.43 L -0 1.15 L 1.76 2.43 L 1.09 0.35 L 2.85 -0.93 L 0.67 -0.93 z" transform="translate(105.15 184.31)"/>
     <path class="k6" d="M 0 -3 L -0.67 -0.93 L -2.85 -0.93 L -1.09 0.35 L -1.76 2.43 L -0 1.15 L 1.76 2.43 L 1.09 0.35 L 2.85 -0.93 L 0.67 -0.93 z" transform="translate(107.68 186.12)"/>
     <path class="k6" d="M 0 -3 L -0.67 -0.93 L -2.85 -0.93 L -1.09 0.35 L -1.76 2.43 L -0 1.15 L 1.76 2.43 L 1.09 0.35 L 2.85 -0.93 L 0.67 -0.93 z" transform="translate(110.56 187.55)"/>
     <path class="k6" d="M 0 -3 L -0.67 -0.93 L -2.85 -0.93 L -1.09 0.35 L -1.76 2.43 L -0 1.15 L 1.76 2.43 L 1.09 0.35 L 2.85 -0.93 L 0.67 -0.93 z" transform="translate(119 193.67)"/>
     <path class="k6" d="M 0 -3 L -0.67 -0.93 L -2.85 -0.93 L -1.09 0.35 L -1.76 2.43 L -0 1.15 L 1.76 2.43 L 1.09 0.35 L 2.85 -0.93 L 0.67 -0.93 z" transform="translate(125.55 198.48)"/>
     <path class="k6" d="M 0 -3 L -0.67 -0.93 L -2.85 -0.93 L -1.09 0.35 L -1.76 2.43 L -0 1.15 L 1.76 2.43 L 1.09 0.35 L 2.85 -0.93 L 0.67 -0.93 z" transform="translate(127.83 199.62)"/>
     <path class="k6" d="M 0 -3 L -0.67 -0.93 L -2.85 -0.93 L -1.09 0.35 L -1.76 2.43 L -0 1.15 L 1.76 2.43 L 1.09 0.35 L 2.85 -0.93 L 0.67 -0.93 z" transform="translate(132.78 202.5)"/>
     <path class="k6" d="M 0 -3 L -0.67 -0.93 L -2.85 -0.93 L -1.09 0.35 L -1.76 2.43 L -0 1.15 L 1.76 2.43 L 1.09 0.35 L 2.85 -0.93 L 0.67 -0.93 z" transform="translate(143 211.48)"/>
     <path class="k6" d="M 0 -3 L -0.67 -0.93 L -2.85 -0.93 L -1.09 0.35 L -1.76 2.43 L -0 1.15 L 1.76 2.43 L 1.09 0.35 L 2.85 -0.93 L 0.67 -0.93 z" transform="translate(145.89 226.4)"/>
     <path class="k6" d="M 0 -3 L -0.67 -0.93 L -2.85 -0.93 L -1.09 0.35 L -1.76 2.43 L -0 1.15 L 1.76 2.43 L 1.09 0.35 L 2.85 -0.93 L 0.67 -0.93 z" transform="translate(155.54 309.08)"/>
     <path class="k6" d="M 0 -3 L -0.67 -0.93 L -2.85 -0.93 L -1.09 0.35 L -1.76 2.43 L -0 1.15 L 1.76 2.43 L 1.09 0.35 L 2.85 -0.93 L 0.67 -0.93 z" transform="translate(200.55 352.42)"/>
    </g>
   </g>
   <g id="line2d_68">
    <g clip-path="url(#p0af4753f2d)">
     <path class="k7" d="M -3 3 L 3 -3 M -3 -3 L 3 3" transform="translate(68.9 132.46)"/>
     <path class="k7" d="M -3 3 L 3 -3 M -3 -3 L 3 3" transform="translate(84.04 138.16)"/>
     <path class="k7" d="M -3 3 L 3 -3 M -3 -3 L 3 3" transform="translate(85.46 138.87)"/>
     <path class="k7" d="M -3 3 L 3 -3 M -3 -3 L 3 3" transform="translate(86.53 139.94)"/>
     <path class="k7" d="M -3 3 L 3 -3 M -3 -3 L 3 3" transform="translate(96.21 139.23)"/>
     <path class="k7" d="M -3 3 L 3 -3 M -3 -3 L 3 3" transform="translate(98.03 139.94)"/>
     <path class="k7" d="M -3 3 L 3 -3 M -3 -3 L 3 3" transform="translate(100.52 142.43)"/>
     <path class="k7" d="M -3 3 L 3 -3 M -3 -3 L 3 3" transform="translate(99.81 145.99)"/>
     <path class="k7" d="M -3 3 L 3 -3 M -3 -3 L 3 3" transform="translate(101.98 148.13)"/>
     <path class="k7" d="M -3 3 L 3 -3 M -3 -3 L 3 3" transform="translate(105.58 150.37)"/>
     <path class="k7" d="M -3 3 L 3 -3 M -3 -3 L 3 3" transform="translate(107 151.83)"/>
     <path class="k7" d="M -3 3 L 3 -3 M -3 -3 L 3 3" transform="translate(108.43 151.12)"/>
     <path class="k7" d="M -3 3 L 3 -3 M -3 -3 L 3 3" transform="translate(106.65 153.61)"/>
     <path class="k7" d="M -3 3 L 3 -3 M -3 -3 L 3 3" transform="translate(109.14 152.9)"/>
     <path class="k7" d="M -3 3 L 3 -3 M -3 -3 L 3 3" transform="translate(111.99 158.46)"/>
     <path class="k7" d="M -3 3 L 3 -3 M -3 -3 L 3 3" transform="translate(114.12 160.59)"/>
     <path class="k7" d="M -3 3 L 3 -3 M -3 -3 L 3 3" transform="translate(116.08 158.46)"/>
     <path class="k7" d="M -3 3 L 3 -3 M -3 -3 L 3 3" transform="translate(118.22 161.31)"/>
     <path class="k7" d="M -3 3 L 3 -3 M -3 -3 L 3 3" transform="translate(115.58 164.15)"/>
     <path class="k7" d="M -3 3 L 3 -3 M -3 -3 L 3 3" transform="translate(120.36 170.56)"/>
     <path class="k7" d="M -3 3 L 3 -3 M -3 -3 L 3 3" transform="translate(129.76 167)"/>
     <path class="k7" d="M -3 3 L 3 -3 M -3 -3 L 3 3" transform="translate(131.89 168.43)"/>
     <path class="k7" d="M -3 3 L 3 -3 M -3 -3 L 3 3" transform="translate(139.09 172.06)"/>
     <path class="k7" d="M -3 3 L 3 -3 M -3 -3 L 3 3" transform="translate(138.66 172.42)"/>
     <path class="k7" d="M -3 3 L 3 -3 M -3 -3 L 3 3" transform="translate(148.42 174.94)"/>
     <path class="k7" d="M -3 3 L 3 -3 M -3 -3 L 3 3" transform="translate(149.02 174.84)"/>
     <path class="k7" d="M -3 3 L 3 -3 M -3 -3 L 3 3" transform="translate(160.95 176.37)"/>
     <path class="k7" d="M -3 3 L 3 -3 M -3 -3 L 3 3" transform="translate(169.96 178.54)"/>
     <path class="k7" d="M -3 3 L 3 -3 M -3 -3 L 3 3" transform="translate(177.83 178.54)"/>
     <path class="k7" d="M -3 3 L 3 -3 M -3 -3 L 3 3" transform="translate(274.68 192.5)"/>
     <path class="k7" d="M -3 3 L 3 -3 M -3 -3 L 3 3" transform="translate(282.91 189.86)"/>
     <path class="k7" d="M -3 3 L 3 -3 M -3 -3 L 3 3" transform="translate(308.19 194.64)"/>
     <path class="k7" d="M -3 3 L 3 -3 M -3 -3 L 3 3" transform="translate(323.79 200.47)"/>
     <path class="k7" d="M -3 3 L 3 -3 M -3 -3 L 3 3" transform="translate(327.49 201.65)"/>
     <path class="k7" d="M -3 3 L 3 -3 M -3 -3 L 3 3" transform="translate(336.89 200.83)"/>
    </g>
   </g>
   <g id="line2d_69">
    <g clip-path="url(#p0af4753f2d)">
     <path class="k8" d="M -1.5 3 L 0 1.5 L 1.5 3 L 3 1.5 L 1.5 0 L 3 -1.5 L 1.5 -3 L 0 -1.5 L -1.5 -3 L -3 -1.5 L -1.5 0 L -3 1.5 z" transform="translate(53.13 191.86)"/>
     <path class="k8" d="M -1.5 3 L 0 1.5 L 1.5 3 L 3 1.5 L 1.5 0 L 3 -1.5 L 1.5 -3 L 0 -1.5 L -1.5 -3 L -3 -1.5 L -1.5 0 L -3 1.5 z" transform="translate(56.69 161.55)"/>
     <path class="k8" d="M -1.5 3 L 0 1.5 L 1.5 3 L 3 1.5 L 1.5 0 L 3 -1.5 L 1.5 -3 L 0 -1.5 L -1.5 -3 L -3 -1.5 L -1.5 0 L -3 1.5 z" transform="translate(58.11 155.43)"/>
     <path class="k8" d="M -1.5 3 L 0 1.5 L 1.5 3 L 3 1.5 L 1.5 0 L 3 -1.5 L 1.5 -3 L 0 -1.5 L -1.5 -3 L -3 -1.5 L -1.5 0 L -3 1.5 z" transform="translate(58.82 153.29)"/>
     <path class="k8" d="M -1.5 3 L 0 1.5 L 1.5 3 L 3 1.5 L 1.5 0 L 3 -1.5 L 1.5 -3 L 0 -1.5 L -1.5 -3 L -3 -1.5 L -1.5 0 L -3 1.5 z" transform="translate(58.93 150.98)"/>
     <path class="k8" d="M -1.5 3 L 0 1.5 L 1.5 3 L 3 1.5 L 1.5 0 L 3 -1.5 L 1.5 -3 L 0 -1.5 L -1.5 -3 L -3 -1.5 L -1.5 0 L -3 1.5 z" transform="translate(60 148.84)"/>
     <path class="k8" d="M -1.5 3 L 0 1.5 L 1.5 3 L 3 1.5 L 1.5 0 L 3 -1.5 L 1.5 -3 L 0 -1.5 L -1.5 -3 L -3 -1.5 L -1.5 0 L -3 1.5 z" transform="translate(60.53 147.6)"/>
     <path class="k8" d="M -1.5 3 L 0 1.5 L 1.5 3 L 3 1.5 L 1.5 0 L 3 -1.5 L 1.5 -3 L 0 -1.5 L -1.5 -3 L -3 -1.5 L -1.5 0 L -3 1.5 z" transform="translate(61.71 147.25)"/>
     <path class="k8" d="M -1.5 3 L 0 1.5 L 1.5 3 L 3 1.5 L 1.5 0 L 3 -1.5 L 1.5 -3 L 0 -1.5 L -1.5 -3 L -3 -1.5 L -1.5 0 L -3 1.5 z" transform="translate(62.99 146.46)"/>
     <path class="k8" d="M -1.5 3 L 0 1.5 L 1.5 3 L 3 1.5 L 1.5 0 L 3 -1.5 L 1.5 -3 L 0 -1.5 L -1.5 -3 L -3 -1.5 L -1.5 0 L -3 1.5 z" transform="translate(64.27 144.82)"/>
     <path class="k8" d="M -1.5 3 L 0 1.5 L 1.5 3 L 3 1.5 L 1.5 0 L 3 -1.5 L 1.5 -3 L 0 -1.5 L -1.5 -3 L -3 -1.5 L -1.5 0 L -3 1.5 z" transform="translate(65.56 144.13)"/>
     <path class="k8" d="M -1.5 3 L 0 1.5 L 1.5 3 L 3 1.5 L 1.5 0 L 3 -1.5 L 1.5 -3 L 0 -1.5 L -1.5 -3 L -3 -1.5 L -1.5 0 L -3 1.5 z" transform="translate(66.8 143.63)"/>
     <path class="k8" d="M -1.5 3 L 0 1.5 L 1.5 3 L 3 1.5 L 1.5 0 L 3 -1.5 L 1.5 -3 L 0 -1.5 L -1.5 -3 L -3 -1.5 L -1.5 0 L -3 1.5 z" transform="translate(68.03 142.56)"/>
     <path class="k8" d="M -1.5 3 L 0 1.5 L 1.5 3 L 3 1.5 L 1.5 0 L 3 -1.5 L 1.5 -3 L 0 -1.5 L -1.5 -3 L -3 -1.5 L -1.5 0 L -3 1.5 z" transform="translate(69.26 140.33)"/>
     <path class="k8" d="M -1.5 3 L 0 1.5 L 1.5 3 L 3 1.5 L 1.5 0 L 3 -1.5 L 1.5 -3 L 0 -1.5 L -1.5 -3 L -3 -1.5 L -1.5 0 L -3 1.5 z" transform="translate(70.56 139.45)"/>
     <path class="k8" d="M -1.5 3 L 0 1.5 L 1.5 3 L 3 1.5 L 1.5 0 L 3 -1.5 L 1.5 -3 L 0 -1.5 L -1.5 -3 L -3 -1.5 L -1.5 0 L -3 1.5 z" transform="translate(71.87 138.24)"/>
     <path class="k8" d="M -1.5 3 L 0 1.5 L 1.5 3 L 3 1.5 L 1.5 0 L 3 -1.5 L 1.5 -3 L 0 -1.5 L -1.5 -3 L -3 -1.5 L -1.5 0 L -3 1.5 z" transform="translate(73.19 137.85)"/>
     <path class="k8" d="M -1.5 3 L 0 1.5 L 1.5 3 L 3 1.5 L 1.5 0 L 3 -1.5 L 1.5 -3 L 0 -1.5 L -1.5 -3 L -3 -1.5 L -1.5 0 L -3 1.5 z" transform="translate(74.6 136.4)"/>
     <path class="k8" d="M -1.5 3 L 0 1.5 L 1.5 3 L 3 1.5 L 1.5 0 L 3 -1.5 L 1.5 -3 L 0 -1.5 L -1.5 -3 L -3 -1.5 L -1.5 0 L -3 1.5 z" transform="translate(76.06 136.31)"/>
     <path class="k8" d="M -1.5 3 L 0 1.5 L 1.5 3 L 3 1.5 L 1.5 0 L 3 -1.5 L 1.5 -3 L 0 -1.5 L -1.5 -3 L -3 -1.5 L -1.5 0 L -3 1.5 z" transform="translate(77.52 136.27)"/>
     <path class="k8" d="M -1.5 3 L 0 1.5 L 1.5 3 L 3 1.5 L 1.5 0 L 3 -1.5 L 1.5 -3 L 0 -1.5 L -1.5 -3 L -3 -1.5 L -1.5 0 L -3 1.5 z" transform="translate(79 133.98)"/>
     <path class="k8" d="M -1.5 3 L 0 1.5 L 1.5 3 L 3 1.5 L 1.5 0 L 3 -1.5 L 1.5 -3 L 0 -1.5 L -1.5 -3 L -3 -1.5 L -1.5 0 L -3 1.5 z" transform="translate(80.6 135.32)"/>
     <path class="k8" d="M -1.5 3 L 0 1.5 L 1.5 3 L 3 1.5 L 1.5 0 L 3 -1.5 L 1.5 -3 L 0 -1.5 L -1.5 -3 L -3 -1.5 L -1.5 0 L -3 1.5 z" transform="translate(82.19 134.6)"/>
     <path class="k8" d="M -1.5 3 L 0 1.5 L 1.5 3 L 3 1.5 L 1.5 0 L 3 -1.5 L 1.5 -3 L 0 -1.5 L -1.5 -3 L -3 -1.5 L -1.5 0 L -3 1.5 z" transform="translate(83.79 131.82)"/>
     <path class="k8" d="M -1.5 3 L 0 1.5 L 1.5 3 L 3 1.5 L 1.5 0 L 3 -1.5 L 1.5 -3 L 0 -1.5 L -1.5 -3 L -3 -1.5 L -1.5 0 L -3 1.5 z" transform="translate(85.39 133.75)"/>
     <path class="k8" d="M -1.5 3 L 0 1.5 L 1.5 3 L 3 1.5 L 1.5 0 L 3 -1.5 L 1.5 -3 L 0 -1.5 L -1.5 -3 L -3 -1.5 L -1.5 0 L -3 1.5 z" transform="translate(86.99 132.11)"/>
     <path class="k8" d="M -1.5 3 L 0 1.5 L 1.5 3 L 3 1.5 L 1.5 0 L 3 -1.5 L 1.5 -3 L 0 -1.5 L -1.5 -3 L -3 -1.5 L -1.5 0 L -3 1.5 z" transform="translate(88.59 132.42)"/>
     <path class="k8" d="M -1.5 3 L 0 1.5 L 1.5 3 L 3 1.5 L 1.5 0 L 3 -1.5 L 1.5 -3 L 0 -1.5 L -1.5 -3 L -3 -1.5 L -1.5 0 L -3 1.5 z" transform="translate(90.19 131.51)"/>
     <path class="k8" d="M -1.5 3 L 0 1.5 L 1.5 3 L 3 1.5 L 1.5 0 L 3 -1.5 L 1.5 -3 L 0 -1.5 L -1.5 -3 L -3 -1.5 L -1.5 0 L -3 1.5 z" transform="translate(91.79 132.91)"/>
     <path class="k8" d="M -1.5 3 L 0 1.5 L 1.5 3 L 3 1.5 L 1.5 0 L 3 -1.5 L 1.5 -3 L 0 -1.5 L -1.5 -3 L -3 -1.5 L -1.5 0 L -3 1.5 z" transform="translate(93.39 131.47)"/>
     <path class="k8" d="M -1.5 3 L 0 1.5 L 1.5 3 L 3 1.5 L 1.5 0 L 3 -1.5 L 1.5 -3 L 0 -1.5 L -1.5 -3 L -3 -1.5 L -1.5 0 L -3 1.5 z" transform="translate(94.99 129.91)"/>
     <path class="k8" d="M -1.5 3 L 0 1.5 L 1.5 3 L 3 1.5 L 1.5 0 L 3 -1.5 L 1.5 -3 L 0 -1.5 L -1.5 -3 L -3 -1.5 L -1.5 0 L -3 1.5 z" transform="translate(96.59 131.22)"/>
     <path class="k8" d="M -1.5 3 L 0 1.5 L 1.5 3 L 3 1.5 L 1.5 0 L 3 -1.5 L 1.5 -3 L 0 -1.5 L -1.5 -3 L -3 -1.5 L -1.5 0 L -3 1.5 z" transform="translate(98.21 132.01)"/>
     <path class="k8" d="M -1.5 3 L 0 1.5 L 1.5 3 L 3 1.5 L 1.5 0 L 3 -1.5 L 1.5 -3 L 0 -1.5 L -1.5 -3 L -3 -1.5 L -1.5 0 L -3 1.5 z" transform="translate(99.84 129.77)"/>
     <path class="k8" d="M -1.5 3 L 0 1.5 L 1.5 3 L 3 1.5 L 1.5 0 L 3 -1.5 L 1.5 -3 L 0 -1.5 L -1.5 -3 L -3 -1.5 L -1.5 0 L -3 1.5 z" transform="translate(101.46 129.19)"/>
     <path class="k8" d="M -1.5 3 L 0 1.5 L 1.5 3 L 3 1.5 L 1.5 0 L 3 -1.5 L 1.5 -3 L 0 -1.5 L -1.5 -3 L -3 -1.5 L -1.5 0 L -3 1.5 z" transform="translate(103.08 129.69)"/>
     <path class="k8" d="M -1.5 3 L 0 1.5 L 1.5 3 L 3 1.5 L 1.5 0 L 3 -1.5 L 1.5 -3 L 0 -1.5 L -1.5 -3 L -3 -1.5 L -1.5 0 L -3 1.5 z" transform="translate(104.71 131.83)"/>
     <path class="k8" d="M -1.5 3 L 0 1.5 L 1.5 3 L 3 1.5 L 1.5 0 L 3 -1.5 L 1.5 -3 L 0 -1.5 L -1.5 -3 L -3 -1.5 L -1.5 0 L -3 1.5 z" transform="translate(106.35 132)"/>
     <path class="k8" d="M -1.5 3 L 0 1.5 L 1.5 3 L 3 1.5 L 1.5 0 L 3 -1.5 L 1.5 -3 L 0 -1.5 L -1.5 -3 L -3 -1.5 L -1.5 0 L -3 1.5 z" transform="translate(107.98 130.71)"/>
     <path class="k8" d="M -1.5 3 L 0 1.5 L 1.5 3 L 3 1.5 L 1.5 0 L 3 -1.5 L 1.5 -3 L 0 -1.5 L -1.5 -3 L -3 -1.5 L -1.5 0 L -3 1.5 z" transform="translate(109.62 131.69)"/>
     <path class="k8" d="M -1.5 3 L 0 1.5 L 1.5 3 L 3 1.5 L 1.5 0 L 3 -1.5 L 1.5 -3 L 0 -1.5 L -1.5 -3 L -3 -1.5 L -1.5 0 L -3 1.5 z" transform="translate(111.26 131.45)"/>
     <path class="k8" d="M -1.5 3 L 0 1.5 L 1.5 3 L 3 1.5 L 1.5 0 L 3 -1.5 L 1.5 -3 L 0 -1.5 L -1.5 -3 L -3 -1.5 L -1.5 0 L -3 1.5 z" transform="translate(112.9 129.45)"/>
     <path class="k8" d="M -1.5 3 L 0 1.5 L 1.5 3 L 3 1.5 L 1.5 0 L 3 -1.5 L 1.5 -3 L 0 -1.5 L -1.5 -3 L -3 -1.5 L -1.5 0 L -3 1.5 z" transform="translate(114.53 128.13)"/>
     <path class="k8" d="M -1.5 3 L 0 1.5 L 1.5 3 L 3 1.5 L 1.5 0 L 3 -1.5 L 1.5 -3 L 0 -1.5 L -1.5 -3 L -3 -1.5 L -1.5 0 L -3 1.5 z" transform="translate(116.14 130.26)"/>
     <path class="k8" d="M -1.5 3 L 0 1.5 L 1.5 3 L 3 1.5 L 1.5 0 L 3 -1.5 L 1.5 -3 L 0 -1.5 L -1.5 -3 L -3 -1.5 L -1.5 0 L -3 1.5 z" transform="translate(117.76 129.58)"/>
     <path class="k8" d="M -1.5 3 L 0 1.5 L 1.5 3 L 3 1.5 L 1.5 0 L 3 -1.5 L 1.5 -3 L 0 -1.5 L -1.5 -3 L -3 -1.5 L -1.5 0 L -3 1.5 z" transform="translate(119.38 128.48)"/>
     <path class="k8" d="M -1.5 3 L 0 1.5 L 1.5 3 L 3 1.5 L 1.5 0 L 3 -1.5 L 1.5 -3 L 0 -1.5 L -1.5 -3 L -3 -1.5 L -1.5 0 L -3 1.5 z" transform="translate(121.01 127.73)"/>
     <path class="k8" d="M -1.5 3 L 0 1.5 L 1.5 3 L 3 1.5 L 1.5 0 L 3 -1.5 L 1.5 -3 L 0 -1.5 L -1.5 -3 L -3 -1.5 L -1.5 0 L -3 1.5 z" transform="translate(122.64 128.35)"/>
     <path class="k8" d="M -1.5 3 L 0 1.5 L 1.5 3 L 3 1.5 L 1.5 0 L 3 -1.5 L 1.5 -3 L 0 -1.5 L -1.5 -3 L -3 -1.5 L -1.5 0 L -3 1.5 z" transform="translate(124.27 128.45)"/>
     <path class="k8" d="M -1.5 3 L 0 1.5 L 1.5 3 L 3 1.5 L 1.5 0 L 3 -1.5 L 1.5 -3 L 0 -1.5 L -1.5 -3 L -3 -1.5 L -1.5 0 L -3 1.5 z" transform="translate(125.9 127.43)"/>
     <path class="k8" d="M -1.5 3 L 0 1.5 L 1.5 3 L 3 1.5 L 1.5 0 L 3 -1.5 L 1.5 -3 L 0 -1.5 L -1.5 -3 L -3 -1.5 L -1.5 0 L -3 1.5 z" transform="translate(127.53 127.38)"/>
     <path class="k8" d="M -1.5 3 L 0 1.5 L 1.5 3 L 3 1.5 L 1.5 0 L 3 -1.5 L 1.5 -3 L 0 -1.5 L -1.5 -3 L -3 -1.5 L -1.5 0 L -3 1.5 z" transform="translate(129.16 127.95)"/>
     <path class="k8" d="M -1.5 3 L 0 1.5 L 1.5 3 L 3 1.5 L 1.5 0 L 3 -1.5 L 1.5 -3 L 0 -1.5 L -1.5 -3 L -3 -1.5 L -1.5 0 L -3 1.5 z" transform="translate(139.23 129.71)"/>
     <path class="k8" d="M -1.5 3 L 0 1.5 L 1.5 3 L 3 1.5 L 1.5 0 L 3 -1.5 L 1.5 -3 L 0 -1.5 L -1.5 -3 L -3 -1.5 L -1.5 0 L -3 1.5 z" transform="translate(140.66 131.99)"/>
     <path class="k8" d="M -1.5 3 L 0 1.5 L 1.5 3 L 3 1.5 L 1.5 0 L 3 -1.5 L 1.5 -3 L 0 -1.5 L -1.5 -3 L -3 -1.5 L -1.5 0 L -3 1.5 z" transform="translate(142.09 130.53)"/>
     <path class="k8" d="M -1.5 3 L 0 1.5 L 1.5 3 L 3 1.5 L 1.5 0 L 3 -1.5 L 1.5 -3 L 0 -1.5 L -1.5 -3 L -3 -1.5 L -1.5 0 L -3 1.5 z" transform="translate(143.53 132.98)"/>
     <path class="k8" d="M -1.5 3 L 0 1.5 L 1.5 3 L 3 1.5 L 1.5 0 L 3 -1.5 L 1.5 -3 L 0 -1.5 L -1.5 -3 L -3 -1.5 L -1.5 0 L -3 1.5 z" transform="translate(145 132.03)"/>
     <path class="k8" d="M -1.5 3 L 0 1.5 L 1.5 3 L 3 1.5 L 1.5 0 L 3 -1.5 L 1.5 -3 L 0 -1.5 L -1.5 -3 L -3 -1.5 L -1.5 0 L -3 1.5 z" transform="translate(146.46 132.67)"/>
     <path class="k8" d="M -1.5 3 L 0 1.5 L 1.5 3 L 3 1.5 L 1.5 0 L 3 -1.5 L 1.5 -3 L 0 -1.5 L -1.5 -3 L -3 -1.5 L -1.5 0 L -3 1.5 z" transform="translate(147.93 133.39)"/>
     <path class="k8" d="M -1.5 3 L 0 1.5 L 1.5 3 L 3 1.5 L 1.5 0 L 3 -1.5 L 1.5 -3 L 0 -1.5 L -1.5 -3 L -3 -1.5 L -1.5 0 L -3 1.5 z" transform="translate(149.4 132.97)"/>
     <path class="k8" d="M -1.5 3 L 0 1.5 L 1.5 3 L 3 1.5 L 1.5 0 L 3 -1.5 L 1.5 -3 L 0 -1.5 L -1.5 -3 L -3 -1.5 L -1.5 0 L -3 1.5 z" transform="translate(150.85 132.7)"/>
     <path class="k8" d="M -1.5 3 L 0 1.5 L 1.5 3 L 3 1.5 L 1.5 0 L 3 -1.5 L 1.5 -3 L 0 -1.5 L -1.5 -3 L -3 -1.5 L -1.5 0 L -3 1.5 z" transform="translate(152.3 132.78)"/>
     <path class="k8" d="M -1.5 3 L 0 1.5 L 1.5 3 L 3 1.5 L 1.5 0 L 3 -1.5 L 1.5 -3 L 0 -1.5 L -1.5 -3 L -3 -1.5 L -1.5 0 L -3 1.5 z" transform="translate(153.74 132.86)"/>
     <path class="k8" d="M -1.5 3 L 0 1.5 L 1.5 3 L 3 1.5 L 1.5 0 L 3 -1.5 L 1.5 -3 L 0 -1.5 L -1.5 -3 L -3 -1.5 L -1.5 0 L -3 1.5 z" transform="translate(155.18 135.12)"/>
     <path class="k8" d="M -1.5 3 L 0 1.5 L 1.5 3 L 3 1.5 L 1.5 0 L 3 -1.5 L 1.5 -3 L 0 -1.5 L -1.5 -3 L -3 -1.5 L -1.5 0 L -3 1.5 z" transform="translate(156.62 134.69)"/>
     <path class="k8" d="M -1.5 3 L 0 1.5 L 1.5 3 L 3 1.5 L 1.5 0 L 3 -1.5 L 1.5 -3 L 0 -1.5 L -1.5 -3 L -3 -1.5 L -1.5 0 L -3 1.5 z" transform="translate(158.04 134.35)"/>
     <path class="k8" d="M -1.5 3 L 0 1.5 L 1.5 3 L 3 1.5 L 1.5 0 L 3 -1.5 L 1.5 -3 L 0 -1.5 L -1.5 -3 L -3 -1.5 L -1.5 0 L -3 1.5 z" transform="translate(159.46 136.88)"/>
     <path class="k8" d="M -1.5 3 L 0 1.5 L 1.5 3 L 3 1.5 L 1.5 0 L 3 -1.5 L 1.5 -3 L 0 -1.5 L -1.5 -3 L -3 -1.5 L -1.5 0 L -3 1.5 z" transform="translate(166.72 138.34)"/>
     <path class="k8" d="M -1.5 3 L 0 1.5 L 1.5 3 L 3 1.5 L 1.5 0 L 3 -1.5 L 1.5 -3 L 0 -1.5 L -1.5 -3 L -3 -1.5 L -1.5 0 L -3 1.5 z" transform="translate(225.83 145.85)"/>
     <path class="k8" d="M -1.5 3 L 0 1.5 L 1.5 3 L 3 1.5 L 1.5 0 L 3 -1.5 L 1.5 -3 L 0 -1.5 L -1.5 -3 L -3 -1.5 L -1.5 0 L -3 1.5 z" transform="translate(303.53 157.82)"/>
     <path class="k8" d="M -1.5 3 L 0 1.5 L 1.5 3 L 3 1.5 L 1.5 0 L 3 -1.5 L 1.5 -3 L 0 -1.5 L -1.5 -3 L -3 -1.5 L -1.5 0 L -3 1.5 z" transform="translate(308.55 155.79)"/>
     <path class="k8" d="M -1.5 3 L 0 1.5 L 1.5 3 L 3 1.5 L 1.5 0 L 3 -1.5 L 1.5 -3 L 0 -1.5 L -1.5 -3 L -3 -1.5 L -1.5 0 L -3 1.5 z" transform="translate(328.2 158.28)"/>
    </g>
   </g>
   <g id="line2d_70">
    <g clip-path="url(#p0af4753f2d)">
     <path class="k9" d="M -0 4.24 L 2.55 0 L 0 -4.24 L -2.55 -0 z" transform="translate(61.39 106.43)"/>
     <path class="k9" d="M -0 4.24 L 2.55 0 L 0 -4.24 L -2.55 -0 z" transform="translate(62.31 106.75)"/>
     <path class="k9" d="M -0 4.24 L 2.55 0 L 0 -4.24 L -2.55 -0 z" transform="translate(63.2 106.47)"/>
     <path class="k9" d="M -0 4.24 L 2.55 0 L 0 -4.24 L -2.55 -0 z" transform="translate(69.79 107.07)"/>
     <path class="k9" d="M -0 4.24 L 2.55 0 L 0 -4.24 L -2.55 -0 z" transform="translate(72.36 108.68)"/>
     <path class="k9" d="M -0 4.24 L 2.55 0 L 0 -4.24 L -2.55 -0 z" transform="translate(73.64 109.32)"/>
     <path class="k9" d="M -0 4.24 L 2.55 0 L 0 -4.24 L -2.55 -0 z" transform="translate(74.07 108.25)"/>
     <path class="k9" d="M -0 4.24 L 2.55 0 L 0 -4.24 L -2.55 -0 z" transform="translate(84.39 110.56)"/>
     <path class="k9" d="M -0 4.24 L 2.55 0 L 0 -4.24 L -2.55 -0 z" transform="translate(90.8 110.46)"/>
     <path class="k9" d="M -0 4.24 L 2.55 0 L 0 -4.24 L -2.55 -0 z" transform="translate(92.23 111.1)"/>
     <path class="k9" d="M -0 4.24 L 2.55 0 L 0 -4.24 L -2.55 -0 z" transform="translate(98.64 115.73)"/>
     <path class="k9" d="M -0 4.24 L 2.55 0 L 0 -4.24 L -2.55 -0 z" transform="translate(100.77 116.44)"/>
     <path class="k9" d="M -0 4.24 L 2.55 0 L 0 -4.24 L -2.55 -0 z" transform="translate(103.26 116.8)"/>
     <path class="k9" d="M -0 4.24 L 2.55 0 L 0 -4.24 L -2.55 -0 z" transform="translate(106.11 117.51)"/>
     <path class="k9" d="M -0 4.24 L 2.55 0 L 0 -4.24 L -2.55 -0 z" transform="translate(123.06 119.72)"/>
     <path class="k9" d="M -0 4.24 L 2.55 0 L 0 -4.24 L -2.55 -0 z" transform="translate(168.85 131.86)"/>
     <path class="k9" d="M -0 4.24 L 2.55 0 L 0 -4.24 L -2.55 -0 z" transform="translate(178.5 131.68)"/>
     <path class="k9" d="M -0 4.24 L 2.55 0 L 0 -4.24 L -2.55 -0 z" transform="translate(184.88 135.67)"/>
    </g>
   </g>
   <g id="line2d_71">
    <path d="M 125.7 57.54 L 127.48 57.69 L 129.26 57.69 L 131.04 57.69 L 132.82 57.54 L 141.19 61.1 L 151.34 61.07 L 153.65 60.53 L 158.99 64.45 L 169.67 68.55 L 177.33 71.75 L 179.11 71.22 L 180.89 71.57 L 187.66 74.07 L 209.73 80.65 L 279.7 100.02 L 281.48 99.17 L 299.36 103.34 L 313.07 108.36 L 315.45 104.19 L 317.27 103.98 L 319.62 104.55 L 335.72 114.66 L 337.74 110.14 L 342.87 109.67 L 343.44 113.48 L 345.04 110.39" clip-path="url(#p0af4753f2d)" style="fill: none; stroke-dasharray: 1.5,2.475; stroke-dashoffset: 0; stroke: #008080; stroke-opacity: 0.5; stroke-width: 1.5"/>
    <g clip-path="url(#p0af4753f2d)">
     <path class="k10" d="M -0 3 L 3 -3 L -3 -3 z" transform="translate(125.7 57.54)"/>
     <path class="k10" d="M -0 3 L 3 -3 L -3 -3 z" transform="translate(127.48 57.69)"/>
     <path class="k10" d="M -0 3 L 3 -3 L -3 -3 z" transform="translate(129.26 57.69)"/>
     <path class="k10" d="M -0 3 L 3 -3 L -3 -3 z" transform="translate(131.04 57.69)"/>
     <path class="k10" d="M -0 3 L 3 -3 L -3 -3 z" transform="translate(132.82 57.54)"/>
     <path class="k10" d="M -0 3 L 3 -3 L -3 -3 z" transform="translate(141.19 61.1)"/>
     <path class="k10" d="M -0 3 L 3 -3 L -3 -3 z" transform="translate(151.34 61.07)"/>
     <path class="k10" d="M -0 3 L 3 -3 L -3 -3 z" transform="translate(153.65 60.53)"/>
     <path class="k10" d="M -0 3 L 3 -3 L -3 -3 z" transform="translate(158.99 64.45)"/>
     <path class="k10" d="M -0 3 L 3 -3 L -3 -3 z" transform="translate(169.67 68.55)"/>
     <path class="k10" d="M -0 3 L 3 -3 L -3 -3 z" transform="translate(177.33 71.75)"/>
     <path class="k10" d="M -0 3 L 3 -3 L -3 -3 z" transform="translate(179.11 71.22)"/>
     <path class="k10" d="M -0 3 L 3 -3 L -3 -3 z" transform="translate(180.89 71.57)"/>
     <path class="k10" d="M -0 3 L 3 -3 L -3 -3 z" transform="translate(187.66 74.07)"/>
     <path class="k10" d="M -0 3 L 3 -3 L -3 -3 z" transform="translate(209.73 80.65)"/>
     <path class="k10" d="M -0 3 L 3 -3 L -3 -3 z" transform="translate(279.7 100.02)"/>
     <path class="k10" d="M -0 3 L 3 -3 L -3 -3 z" transform="translate(281.48 99.17)"/>
     <path class="k10" d="M -0 3 L 3 -3 L -3 -3 z" transform="translate(299.36 103.34)"/>
     <path class="k10" d="M -0 3 L 3 -3 L -3 -3 z" transform="translate(313.07 108.36)"/>
     <path class="k10" d="M -0 3 L 3 -3 L -3 -3 z" transform="translate(315.45 104.19)"/>
     <path class="k10" d="M -0 3 L 3 -3 L -3 -3 z" transform="translate(317.27 103.98)"/>
     <path class="k10" d="M -0 3 L 3 -3 L -3 -3 z" transform="translate(319.62 104.55)"/>
     <path class="k10" d="M -0 3 L 3 -3 L -3 -3 z" transform="translate(335.72 114.66)"/>
     <path class="k10" d="M -0 3 L 3 -3 L -3 -3 z" transform="translate(337.74 110.14)"/>
     <path class="k10" d="M -0 3 L 3 -3 L -3 -3 z" transform="translate(342.87 109.67)"/>
     <path class="k10" d="M -0 3 L 3 -3 L -3 -3 z" transform="translate(343.44 113.48)"/>
     <path class="k10" d="M -0 3 L 3 -3 L -3 -3 z" transform="translate(345.04 110.39)"/>
    </g>
   </g>
   <g id="line2d_72">
    <path d="M 72.25 128.58 L 74.42 131.39 L 75.13 133.89 L 76.02 132.61 L 87.88 132.61 L 89.02 132.46 L 94.33 131.79 L 99.17 133.42 L 115.01 146.21 L 122.56 153.4 L 192.46 187.16 L 193.89 184.27 L 194.96 182.49 L 201.79 187.51 L 203.22 189.29 L 205.39 189.65 L 208.24 191.47 L 208.99 197.91 L 210.45 196.56 L 211.16 193.6 L 212.58 194.67" clip-path="url(#p0af4753f2d)" style="fill: none; stroke: #a52a2a; stroke-opacity: 0.5; stroke-width: 1.5; stroke-linecap: square"/>
    <g clip-path="url(#p0af4753f2d)">
     <path class="k11" d="M -1 3 L 1 3 L 1 1 L 3 1 L 3 -1 L 1 -1 L 1 -3 L -1 -3 L -1 -1 L -3 -1 L -3 1 L -1 1 z" transform="translate(72.25 128.58)"/>
     <path class="k11" d="M -1 3 L 1 3 L 1 1 L 3 1 L 3 -1 L 1 -1 L 1 -3 L -1 -3 L -1 -1 L -3 -1 L -3 1 L -1 1 z" transform="translate(74.42 131.39)"/>
     <path class="k11" d="M -1 3 L 1 3 L 1 1 L 3 1 L 3 -1 L 1 -1 L 1 -3 L -1 -3 L -1 -1 L -3 -1 L -3 1 L -1 1 z" transform="translate(75.13 133.89)"/>
     <path class="k11" d="M -1 3 L 1 3 L 1 1 L 3 1 L 3 -1 L 1 -1 L 1 -3 L -1 -3 L -1 -1 L -3 -1 L -3 1 L -1 1 z" transform="translate(76.02 132.61)"/>
     <path class="k11" d="M -1 3 L 1 3 L 1 1 L 3 1 L 3 -1 L 1 -1 L 1 -3 L -1 -3 L -1 -1 L -3 -1 L -3 1 L -1 1 z" transform="translate(87.88 132.61)"/>
     <path class="k11" d="M -1 3 L 1 3 L 1 1 L 3 1 L 3 -1 L 1 -1 L 1 -3 L -1 -3 L -1 -1 L -3 -1 L -3 1 L -1 1 z" transform="translate(89.02 132.46)"/>
     <path class="k11" d="M -1 3 L 1 3 L 1 1 L 3 1 L 3 -1 L 1 -1 L 1 -3 L -1 -3 L -1 -1 L -3 -1 L -3 1 L -1 1 z" transform="translate(94.33 131.79)"/>
     <path class="k11" d="M -1 3 L 1 3 L 1 1 L 3 1 L 3 -1 L 1 -1 L 1 -3 L -1 -3 L -1 -1 L -3 -1 L -3 1 L -1 1 z" transform="translate(99.17 133.42)"/>
     <path class="k11" d="M -1 3 L 1 3 L 1 1 L 3 1 L 3 -1 L 1 -1 L 1 -3 L -1 -3 L -1 -1 L -3 -1 L -3 1 L -1 1 z" transform="translate(115.01 146.21)"/>
     <path class="k11" d="M -1 3 L 1 3 L 1 1 L 3 1 L 3 -1 L 1 -1 L 1 -3 L -1 -3 L -1 -1 L -3 -1 L -3 1 L -1 1 z" transform="translate(122.56 153.4)"/>
     <path class="k11" d="M -1 3 L 1 3 L 1 1 L 3 1 L 3 -1 L 1 -1 L 1 -3 L -1 -3 L -1 -1 L -3 -1 L -3 1 L -1 1 z" transform="translate(192.46 187.16)"/>
     <path class="k11" d="M -1 3 L 1 3 L 1 1 L 3 1 L 3 -1 L 1 -1 L 1 -3 L -1 -3 L -1 -1 L -3 -1 L -3 1 L -1 1 z" transform="translate(193.89 184.27)"/>
     <path class="k11" d="M -1 3 L 1 3 L 1 1 L 3 1 L 3 -1 L 1 -1 L 1 -3 L -1 -3 L -1 -1 L -3 -1 L -3 1 L -1 1 z" transform="translate(194.96 182.49)"/>
     <path class="k11" d="M -1 3 L 1 3 L 1 1 L 3 1 L 3 -1 L 1 -1 L 1 -3 L -1 -3 L -1 -1 L -3 -1 L -3 1 L -1 1 z" transform="translate(201.79 187.51)"/>
     <path class="k11" d="M -1 3 L 1 3 L 1 1 L 3 1 L 3 -1 L 1 -1 L 1 -3 L -1 -3 L -1 -1 L -3 -1 L -3 1 L -1 1 z" transform="translate(203.22 189.29)"/>
     <path class="k11" d="M -1 3 L 1 3 L 1 1 L 3 1 L 3 -1 L 1 -1 L 1 -3 L -1 -3 L -1 -1 L -3 -1 L -3 1 L -1 1 z" transform="translate(205.39 189.65)"/>
     <path class="k11" d="M -1 3 L 1 3 L 1 1 L 3 1 L 3 -1 L 1 -1 L 1 -3 L -1 -3 L -1 -1 L -3 -1 L -3 1 L -1 1 z" transform="translate(208.24 191.47)"/>
     <path class="k11" d="M -1 3 L 1 3 L 1 1 L 3 1 L 3 -1 L 1 -1 L 1 -3 L -1 -3 L -1 -1 L -3 -1 L -3 1 L -1 1 z" transform="translate(208.99 197.91)"/>
     <path class="k11" d="M -1 3 L 1 3 L 1 1 L 3 1 L 3 -1 L 1 -1 L 1 -3 L -1 -3 L -1 -1 L -3 -1 L -3 1 L -1 1 z" transform="translate(210.45 196.56)"/>
     <path class="k11" d="M -1 3 L 1 3 L 1 1 L 3 1 L 3 -1 L 1 -1 L 1 -3 L -1 -3 L -1 -1 L -3 -1 L -3 1 L -1 1 z" transform="translate(211.16 193.6)"/>
     <path class="k11" d="M -1 3 L 1 3 L 1 1 L 3 1 L 3 -1 L 1 -1 L 1 -3 L -1 -3 L -1 -1 L -3 -1 L -3 1 L -1 1 z" transform="translate(212.58 194.67)"/>
    </g>
   </g>
   <g id="line2d_73">
    <path d="M 64.99 176.83 L 64.99 181.82 L 90.48 146.07 L 92.65 146.07 L 94.9 145.64 L 97.85 144.46 L 103.05 143.75 L 110.96 144.82 L 116.69 143.93 L 131.18 151.26 L 132.61 151.98 L 136.2 154.11 L 143.04 160.24 L 153.12 163.09 L 155.96 164.87" clip-path="url(#p0af4753f2d)" style="fill: none; stroke-dasharray: 9.6,2.4,1.5,2.4; stroke-dashoffset: 0; stroke: #9400d3; stroke-opacity: 0.5; stroke-width: 1.5"/>
    <g clip-path="url(#p0af4753f2d)">
     <path class="k12" d="M -3 0 L 3 0 M 0 3 L 0 -3" transform="translate(64.99 176.83)"/>
     <path class="k12" d="M -3 0 L 3 0 M 0 3 L 0 -3" transform="translate(64.99 181.82)"/>
     <path class="k12" d="M -3 0 L 3 0 M 0 3 L 0 -3" transform="translate(90.48 146.07)"/>
     <path class="k12" d="M -3 0 L 3 0 M 0 3 L 0 -3" transform="translate(92.65 146.07)"/>
     <path class="k12" d="M -3 0 L 3 0 M 0 3 L 0 -3" transform="translate(94.9 145.64)"/>
     <path class="k12" d="M -3 0 L 3 0 M 0 3 L 0 -3" transform="translate(97.85 144.46)"/>
     <path class="k12" d="M -3 0 L 3 0 M 0 3 L 0 -3" transform="translate(103.05 143.75)"/>
     <path class="k12" d="M -3 0 L 3 0 M 0 3 L 0 -3" transform="translate(110.96 144.82)"/>
     <path class="k12" d="M -3 0 L 3 0 M 0 3 L 0 -3" transform="translate(116.69 143.93)"/>
     <path class="k12" d="M -3 0 L 3 0 M 0 3 L 0 -3" transform="translate(131.18 151.26)"/>
     <path class="k12" d="M -3 0 L 3 0 M 0 3 L 0 -3" transform="translate(132.61 151.98)"/>
     <path class="k12" d="M -3 0 L 3 0 M 0 3 L 0 -3" transform="translate(136.2 154.11)"/>
     <path class="k12" d="M -3 0 L 3 0 M 0 3 L 0 -3" transform="translate(143.04 160.24)"/>
     <path class="k12" d="M -3 0 L 3 0 M 0 3 L 0 -3" transform="translate(153.12 163.09)"/>
     <path class="k12" d="M -3 0 L 3 0 M 0 3 L 0 -3" transform="translate(155.96 164.87)"/>
    </g>
   </g>
   <g id="line2d_74">
    <g clip-path="url(#p0af4753f2d)">
     <circle class="k13" cx="58.79" cy="140.97" r="3"/>
     <circle class="k13" cx="60.14" cy="139.87" r="3"/>
     <circle class="k13" cx="61.5" cy="125.34" r="3"/>
     <circle class="k13" cx="62.85" cy="123.2" r="3"/>
     <circle class="k13" cx="64.17" cy="126.41" r="3"/>
     <circle class="k13" cx="64.74" cy="128.55" r="3"/>
     <circle class="k13" cx="66.87" cy="124.81" r="3"/>
     <circle class="k13" cx="69.04" cy="123.2" r="3"/>
     <circle class="k13" cx="70.65" cy="121.03" r="3"/>
     <circle class="k13" cx="72.25" cy="119.43" r="3"/>
     <circle class="k13" cx="75.49" cy="117.01" r="3"/>
     <circle class="k13" cx="78.2" cy="117.54" r="3"/>
     <circle class="k13" cx="85.71" cy="116.72" r="3"/>
     <circle class="k13" cx="88.42" cy="116.19" r="3"/>
     <circle class="k13" cx="91.12" cy="116.72" r="3"/>
     <circle class="k13" cx="93.26" cy="116.72" r="3"/>
     <circle class="k13" cx="96.5" cy="115.12" r="3"/>
     <circle class="k13" cx="99.17" cy="114.59" r="3"/>
     <circle class="k13" cx="101.88" cy="113.48" r="3"/>
     <circle class="k13" cx="102.41" cy="114.02" r="3"/>
     <circle class="k13" cx="104.33" cy="113.59" r="3"/>
     <circle class="k13" cx="107.25" cy="113.77" r="3"/>
     <circle class="k13" cx="110.46" cy="114.3" r="3"/>
     <circle class="k13" cx="113.7" cy="114.02" r="3"/>
     <circle class="k13" cx="116.4" cy="114.02" r="3"/>
     <circle class="k13" cx="118.01" cy="109.99" r="3"/>
     <circle class="k13" cx="122.31" cy="109.46" r="3"/>
     <circle class="k13" cx="128.23" cy="111.06" r="3"/>
     <circle class="k13" cx="131.47" cy="114.3" r="3"/>
     <circle class="k13" cx="134.71" cy="114.84" r="3"/>
     <circle class="k13" cx="137.95" cy="113.77" r="3"/>
     <circle class="k13" cx="143.57" cy="117.79" r="3"/>
     <circle class="k13" cx="150.59" cy="116.72" r="3"/>
     <circle class="k13" cx="247.3" cy="158.53" r="3"/>
     <circle class="k13" cx="256.7" cy="159.13" r="3"/>
     <circle class="k13" cx="265.74" cy="159.13" r="3"/>
     <circle class="k13" cx="268.63" cy="158.17" r="3"/>
     <circle class="k13" cx="272.33" cy="166.04" r="3"/>
     <circle class="k13" cx="274.68" cy="167.22" r="3"/>
     <circle class="k13" cx="280.06" cy="161.52" r="3"/>
     <circle class="k13" cx="303.88" cy="173.91" r="3"/>
     <circle class="k13" cx="312" cy="179.39" r="3"/>
     <circle class="k13" cx="313.67" cy="185.8" r="3"/>
    </g>
   </g>
   <g id="patch_3">
    <path d="M 45.51 356.12 L 45.51 42.94" style="fill: none; stroke: #000000; stroke-linejoin: miter; stroke-linecap: square"/>
   </g>
   <g id="patch_4">
    <path d="M 344.33 356.12 L 344.33 42.94" style="fill: none; stroke: #000000; stroke-linejoin: miter; stroke-linecap: square"/>
   </g>
   <g id="patch_5">
    <path d="M 45.51 356.12 L 344.33 356.12" style="fill: none; stroke: #000000; stroke-linejoin: miter; stroke-linecap: square"/>
   </g>
   <g id="patch_6">
    <path d="M 45.51 42.94 L 344.33 42.94" style="fill: none; stroke: #000000; stroke-linejoin: miter; stroke-linecap: square"/>
   </g>
   <g id="legend_1">
    <g id="patch_7">
     <path d="M 62.99 33.24 L 326.85 33.24 Q 328.25 33.24 328.25 31.84 L 328.25 1.71 Q 328.25 0.31 326.85 0.31 L 62.99 0.31 Q 61.59 0.31 61.59 1.71 L 61.59 31.84 Q 61.59 33.24 62.99 33.24 z" style="fill: #ffffff; opacity: 0.8; stroke: #cccccc; stroke-linejoin: miter"/>
    </g>
    <g id="line2d_75">
     <path d="M 64.39 5.98 L 71.39 5.98 L 78.39 5.98" style="fill: none; stroke-dasharray: 5.55,2.4; stroke-dashoffset: 0; stroke: #ff0000; stroke-opacity: 0.5; stroke-width: 1.5"/>
     <g>
      <path class="k2" d="M 3 0 L -3 -3 L -3 3 z" transform="translate(71.39 5.98)"/>
     </g>
    </g>
    <g id="text_8">
     <text style="font-size: 7px; font-family: 'DejaVu Sans', 'Liberation Sans', sans-serif; text-anchor: start" x="83.99" y="8.43"  transform="rotate(0 83.99 8.43)">2006gy</text>
    </g>
    <g id="line2d_76">
     <g>
      <circle class="k3" cx="71.39" cy="16.25" r="3"/>
     </g>
    </g>
    <g id="text_9">
     <text style="font-size: 7px; font-family: 'DejaVu Sans', 'Liberation Sans', sans-serif; text-anchor: start" x="83.99" y="18.7"  transform="rotate(0 83.99 18.70)">2006tf</text>
    </g>
    <g id="line2d_77">
     <g>
      <path class="k4" d="M -3 3 L 3 3 L 3 -3 L -3 -3 z" transform="translate(71.39 26.53)"/>
     </g>
    </g>
    <g id="text_10">
     <text style="font-size: 7px; font-family: 'DejaVu Sans', 'Liberation Sans', sans-serif; text-anchor: start" x="83.99" y="28.98"  transform="rotate(0 83.99 28.98)">2009kn</text>
    </g>
    <g id="line2d_78">
     <g>
      <path class="k5" d="M -3 4.5 L 0 0 L 3 4.5 z" transform="translate(131.39 5.98)"/>
     </g>
    </g>
    <g id="text_11">
     <text style="font-size: 7px; font-family: 'DejaVu Sans', 'Liberation Sans', sans-serif; text-anchor: start" x="143.99" y="8.43"  transform="rotate(0 143.99 8.43)">2010jl</text>
    </g>
    <g id="line2d_79">
     <g>
      <path class="k6" d="M 0 -3 L -0.67 -0.93 L -2.85 -0.93 L -1.09 0.35 L -1.76 2.43 L -0 1.15 L 1.76 2.43 L 1.09 0.35 L 2.85 -0.93 L 0.67 -0.93 z" transform="translate(131.39 16.25)"/>
     </g>
    </g>
    <g id="text_12">
     <text style="font-size: 7px; font-family: 'DejaVu Sans', 'Liberation Sans', sans-serif; text-anchor: start" x="143.99" y="18.7"  transform="rotate(0 143.99 18.70)">2011ht</text>
    </g>
    <g id="line2d_80">
     <g>
      <path class="k7" d="M -3 3 L 3 -3 M -3 -3 L 3 3" transform="translate(131.39 26.53)"/>
     </g>
    </g>
    <g id="text_13">
     <text style="font-size: 7px; font-family: 'DejaVu Sans', 'Liberation Sans', sans-serif; text-anchor: start" x="143.99" y="28.98"  transform="rotate(0 143.99 28.98)">2012ab</text>
    </g>
    <g id="line2d_81">
     <g>
      <path class="k8" d="M -1.5 3 L 0 1.5 L 1.5 3 L 3 1.5 L 1.5 0 L 3 -1.5 L 1.5 -3 L 0 -1.5 L -1.5 -3 L -3 -1.5 L -1.5 0 L -3 1.5 z" transform="translate(191.54 5.98)"/>
     </g>
    </g>
    <g id="text_14">
     <text style="font-size: 7px; font-family: 'DejaVu Sans', 'Liberation Sans', sans-serif; text-anchor: start" x="204.14" y="8.43"  transform="rotate(0 204.14 8.43)">2015da</text>
    </g>
    <g id="line2d_82">
     <g>
      <path class="k9" d="M -0 4.24 L 2.55 0 L 0 -4.24 L -2.55 -0 z" transform="translate(191.54 16.25)"/>
     </g>
    </g>
    <g id="text_15">
     <text style="font-size: 7px; font-family: 'DejaVu Sans', 'Liberation Sans', sans-serif; text-anchor: start" x="204.14" y="18.7"  transform="rotate(0 204.14 18.70)">asassn-15ua</text>
    </g>
    <g id="line2d_83">
     <path d="M 184.54 26.53 L 191.54 26.53 L 198.54 26.53" style="fill: none; stroke-dasharray: 1.5,2.475; stroke-dashoffset: 0; stroke: #008080; stroke-opacity: 0.5; stroke-width: 1.5"/>
     <g>
      <path class="k10" d="M -0 3 L 3 -3 L -3 -3 z" transform="translate(191.54 26.53)"/>
     </g>
    </g>
    <g id="text_16">
     <text style="font-size: 7px; font-family: 'DejaVu Sans', 'Liberation Sans', sans-serif; text-anchor: start" x="204.14" y="28.98"  transform="rotate(0 204.14 28.98)">2016aps</text>
    </g>
    <g id="line2d_84">
     <path d="M 262.25 5.98 L 269.25 5.98 L 276.25 5.98" style="fill: none; stroke: #a52a2a; stroke-opacity: 0.5; stroke-width: 1.5; stroke-linecap: square"/>
     <g>
      <path class="k11" d="M -1 3 L 1 3 L 1 1 L 3 1 L 3 -1 L 1 -1 L 1 -3 L -1 -3 L -1 -1 L -3 -1 L -3 1 L -1 1 z" transform="translate(269.25 5.98)"/>
     </g>
    </g>
    <g id="text_17">
     <text style="font-size: 7px; font-family: 'DejaVu Sans', 'Liberation Sans', sans-serif; text-anchor: start" x="281.85" y="8.43"  transform="rotate(0 281.85 8.43)">PTF11rfr</text>
    </g>
    <g id="line2d_85">
     <path d="M 262.25 16.25 L 269.25 16.25 L 276.25 16.25" style="fill: none; stroke-dasharray: 9.6,2.4,1.5,2.4; stroke-dashoffset: 0; stroke: #9400d3; stroke-opacity: 0.5; stroke-width: 1.5"/>
     <g>
      <path class="k12" d="M -3 0 L 3 0 M 0 3 L 0 -3" transform="translate(269.25 16.25)"/>
     </g>
    </g>
    <g id="text_18">
     <text style="font-size: 7px; font-family: 'DejaVu Sans', 'Liberation Sans', sans-serif; text-anchor: start" x="281.85" y="18.7"  transform="rotate(0 281.85 18.70)">PTF11oxu</text>
    </g>
    <g id="line2d_86">
     <g>
      <circle class="k13" cx="269.25" cy="26.53" r="3"/>
     </g>
    </g>
    <g id="text_19">
     <text style="font-size: 7px; font-family: 'DejaVu Sans', 'Liberation Sans', sans-serif; text-anchor: start" x="281.85" y="28.98"  transform="rotate(0 281.85 28.98)">ASASSN-14il</text>
    </g>
   </g>
  </g>
  <g id="axes_2">
   <g id="patch_8">
    <path d="M 45.51 683.5 L 344.33 683.5 L 344.33 370.54 L 45.51 370.54 z" style="fill: #ffffff"/>
   </g>
   <g id="matplotlib.axis_3">
    <g id="xtick_42">
     <g id="line2d_87">
      <path d="M 52.7 683.5 L 52.7 370.54" clip-path="url(#p862bfe7490)" style="fill: none; stroke-dasharray: 1,1.65; stroke-dashoffset: 0; stroke: #a8a8a8"/>
     </g>
     <g id="line2d_88">
      <g>
       <path class="k0" d="M 0 0 L 0 3.5" transform="translate(52.7 683.5)"/>
      </g>
     </g>
     <g id="text_20">
      <text style="font-size: 10px; font-family: 'DejaVu Sans', 'Liberation Sans', sans-serif; text-anchor: middle" x="52.7" y="698.6"  transform="rotate(0 52.70 698.60)">0</text>
     </g>
    </g>
    <g id="xtick_43">
     <g id="line2d_89">
      <path d="M 89.15 683.5 L 89.15 370.54" clip-path="url(#p862bfe7490)" style="fill: none; stroke-dasharray: 1,1.65; stroke-dashoffset: 0; stroke: #a8a8a8"/>
     </g>
     <g id="line2d_90">
      <g>
       <path class="k0" d="M 0 0 L 0 3.5" transform="translate(89.15 683.5)"/>
      </g>
     </g>
     <g id="text_21">
      <text style="font-size: 10px; font-family: 'DejaVu Sans', 'Liberation Sans', sans-serif; text-anchor: middle" x="89.15" y="698.6"  transform="rotate(0 89.15 698.60)">50</text>
     </g>
    </g>
    <g id="xtick_44">
     <g id="line2d_91">
      <path d="M 125.59 683.5 L 125.59 370.54" clip-path="url(#p862bfe7490)" style="fill: none; stroke-dasharray: 1,1.65; stroke-dashoffset: 0; stroke: #a8a8a8"/>
     </g>
     <g id="line2d_92">
      <g>
       <path class="k0" d="M 0 0 L 0 3.5" transform="translate(125.59 683.5)"/>
      </g>
     </g>
     <g id="text_22">
      <text style="font-size: 10px; font-family: 'DejaVu Sans', 'Liberation Sans', sans-serif; text-anchor: middle" x="125.59" y="698.6"  transform="rotate(0 125.59 698.60)">100</text>
     </g>
    </g>
    <g id="xtick_45">
     <g id="line2d_93">
      <path d="M 162.04 683.5 L 162.04 370.54" clip-path="url(#p862bfe7490)" style="fill: none; stroke-dasharray: 1,1.65; stroke-dashoffset: 0; stroke: #a8a8a8"/>
     </g>
     <g id="line2d_94">
      <g>
       <path class="k0" d="M 0 0 L 0 3.5" transform="translate(162.04 683.5)"/>
      </g>
     </g>
     <g id="text_23">
      <text style="font-size: 10px; font-family: 'DejaVu Sans', 'Liberation Sans', sans-serif; text-anchor: middle" x="162.04" y="698.6"  transform="rotate(0 162.04 698.60)">150</text>
     </g>
    </g>
    <g id="xtick_46">
     <g id="line2d_95">
      <path d="M 198.48 683.5 L 198.48 370.54" clip-path="url(#p862bfe7490)" style="fill: none; stroke-dasharray: 1,1.65; stroke-dashoffset: 0; stroke: #a8a8a8"/>
     </g>
     <g id="line2d_96">
      <g>
       <path class="k0" d="M 0 0 L 0 3.5" transform="translate(198.48 683.5)"/>
      </g>
     </g>
     <g id="text_24">
      <text style="font-size: 10px; font-family: 'DejaVu Sans', 'Liberation Sans', sans-serif; text-anchor: middle" x="198.48" y="698.6"  transform="rotate(0 198.48 698.60)">200</text>
     </g>
    </g>
    <g id="xtick_47">
     <g id="line2d_97">
      <path d="M 234.93 683.5 L 234.93 370.54" clip-path="url(#p862bfe7490)" style="fill: none; stroke-dasharray: 1,1.65; stroke-dashoffset: 0; stroke: #a8a8a8"/>
     </g>
     <g id="line2d_98">
      <g>
       <path class="k0" d="M 0 0 L 0 3.5" transform="translate(234.93 683.5)"/>
      </g>
     </g>
     <g id="text_25">
      <text style="font-size: 10px; font-family: 'DejaVu Sans', 'Liberation Sans', sans-serif; text-anchor: middle" x="234.93" y="698.6"  transform="rotate(0 234.93 698.60)">250</text>
     </g>
    </g>
    <g id="xtick_48">
     <g id="line2d_99">
      <path d="M 271.37 683.5 L 271.37 370.54" clip-path="url(#p862bfe7490)" style="fill: none; stroke-dasharray: 1,1.65; stroke-dashoffset: 0; stroke: #a8a8a8"/>
     </g>
     <g id="line2d_100">
      <g>
       <path class="k0" d="M 0 0 L 0 3.5" transform="translate(271.37 683.5)"/>
      </g>
     </g>
     <g id="text_26">
      <text style="font-size: 10px; font-family: 'DejaVu Sans', 'Liberation Sans', sans-serif; text-anchor: middle" x="271.37" y="698.6"  transform="rotate(0 271.37 698.60)">300</text>
     </g>
    </g>
    <g id="xtick_49">
     <g id="line2d_101">
      <path d="M 307.82 683.5 L 307.82 370.54" clip-path="url(#p862bfe7490)" style="fill: none; stroke-dasharray: 1,1.65; stroke-dashoffset: 0; stroke: #a8a8a8"/>
     </g>
     <g id="line2d_102">
      <g>
       <path class="k0" d="M 0 0 L 0 3.5" transform="translate(307.82 683.5)"/>
      </g>
     </g>
     <g id="text_27">
      <text style="font-size: 10px; font-family: 'DejaVu Sans', 'Liberation Sans', sans-serif; text-anchor: middle" x="307.82" y="698.6"  transform="rotate(0 307.82 698.60)">350</text>
     </g>
    </g>
    <g id="xtick_50">
     <g id="line2d_103">
      <path d="M 344.26 683.5 L 344.26 370.54" clip-path="url(#p862bfe7490)" style="fill: none; stroke-dasharray: 1,1.65; stroke-dashoffset: 0; stroke: #a8a8a8"/>
     </g>
     <g id="line2d_104">
      <g>
       <path class="k0" d="M 0 0 L 0 3.5" transform="translate(344.26 683.5)"/>
      </g>
     </g>
     <g id="text_28">
      <text style="font-size: 10px; font-family: 'DejaVu Sans', 'Liberation Sans', sans-serif; text-anchor: middle" x="344.26" y="698.6"  transform="rotate(0 344.26 698.60)">400</text>
     </g>
    </g>
    <g id="xtick_51">
     <g id="line2d_105">
      <g>
       <path class="k1" d="M 0 0 L 0 2" transform="translate(59.99 683.5)"/>
      </g>
     </g>
    </g>
    <g id="xtick_52">
     <g id="line2d_106">
      <g>
       <path class="k1" d="M 0 0 L 0 2" transform="translate(67.28 683.5)"/>
      </g>
     </g>
    </g>
    <g id="xtick_53">
     <g id="line2d_107">
      <g>
       <path class="k1" d="M 0 0 L 0 2" transform="translate(74.57 683.5)"/>
      </g>
     </g>
    </g>
    <g id="xtick_54">
     <g id="line2d_108">
      <g>
       <path class="k1" d="M 0 0 L 0 2" transform="translate(81.86 683.5)"/>
      </g>
     </g>
    </g>
    <g id="xtick_55">
     <g id="line2d_109">
      <g>
       <path class="k1" d="M 0 0 L 0 2" transform="translate(96.43 683.5)"/>
      </g>
     </g>
    </g>
    <g id="xtick_56">
     <g id="line2d_110">
      <g>
       <path class="k1" d="M 0 0 L 0 2" transform="translate(103.72 683.5)"/>
      </g>
     </g>
    </g>
    <g id="xtick_57">
     <g id="line2d_111">
      <g>
       <path class="k1" d="M 0 0 L 0 2" transform="translate(111.01 683.5)"/>
      </g>
     </g>
    </g>
    <g id="xtick_58">
     <g id="line2d_112">
      <g>
       <path class="k1" d="M 0 0 L 0 2" transform="translate(118.3 683.5)"/>
      </g>
     </g>
    </g>
    <g id="xtick_59">
     <g id="line2d_113">
      <g>
       <path class="k1" d="M 0 0 L 0 2" transform="translate(132.88 683.5)"/>
      </g>
     </g>
    </g>
    <g id="xtick_60">
     <g id="line2d_114">
      <g>
       <path class="k1" d="M 0 0 L 0 2" transform="translate(140.17 683.5)"/>
      </g>
     </g>
    </g>
    <g id="xtick_61">
     <g id="line2d_115">
      <g>
       <path class="k1" d="M 0 0 L 0 2" transform="translate(147.46 683.5)"/>
      </g>
     </g>
    </g>
    <g id="xtick_62">
     <g id="line2d_116">
      <g>
       <path class="k1" d="M 0 0 L 0 2" transform="translate(154.75 683.5)"/>
      </g>
     </g>
    </g>
    <g id="xtick_63">
     <g id="line2d_117">
      <g>
       <path class="k1" d="M 0 0 L 0 2" transform="translate(169.32 683.5)"/>
      </g>
     </g>
    </g>
    <g id="xtick_64">
     <g id="line2d_118">
      <g>
       <path class="k1" d="M 0 0 L 0 2" transform="translate(176.61 683.5)"/>
      </g>
     </g>
    </g>
    <g id="xtick_65">
     <g id="line2d_119">
      <g>
       <path class="k1" d="M 0 0 L 0 2" transform="translate(183.9 683.5)"/>
      </g>
     </g>
    </g>
    <g id="xtick_66">
     <g id="line2d_120">
      <g>
       <path class="k1" d="M 0 0 L 0 2" transform="translate(191.19 683.5)"/>
      </g>
     </g>
    </g>
    <g id="xtick_67">
     <g id="line2d_121">
      <g>
       <path class="k1" d="M 0 0 L 0 2" transform="translate(205.77 683.5)"/>
      </g>
     </g>
    </g>
    <g id="xtick_68">
     <g id="line2d_122">
      <g>
       <path class="k1" d="M 0 0 L 0 2" transform="translate(213.06 683.5)"/>
      </g>
     </g>
    </g>
    <g id="xtick_69">
     <g id="line2d_123">
      <g>
       <path class="k1" d="M 0 0 L 0 2" transform="translate(220.35 683.5)"/>
      </g>
     </g>
    </g>
    <g id="xtick_70">
     <g id="line2d_124">
      <g>
       <path class="k1" d="M 0 0 L 0 2" transform="translate(227.64 683.5)"/>
      </g>
     </g>
    </g>
    <g id="xtick_71">
     <g id="line2d_125">
      <g>
       <path class="k1" d="M 0 0 L 0 2" transform="translate(242.21 683.5)"/>
      </g>
     </g>
    </g>
    <g id="xtick_72">
     <g id="line2d_126">
      <g>
       <path class="k1" d="M 0 0 L 0 2" transform="translate(249.5 683.5)"/>
      </g>
     </g>
    </g>
    <g id="xtick_73">
     <g id="line2d_127">
      <g>
       <path class="k1" d="M 0 0 L 0 2" transform="translate(256.79 683.5)"/>
      </g>
     </g>
    </g>
    <g id="xtick_74">
     <g id="line2d_128">
      <g>
       <path class="k1" d="M 0 0 L 0 2" transform="translate(264.08 683.5)"/>
      </g>
     </g>
    </g>
    <g id="xtick_75">
     <g id="line2d_129">
      <g>
       <path class="k1" d="M 0 0 L 0 2" transform="translate(278.66 683.5)"/>
      </g>
     </g>
    </g>
    <g id="xtick_76">
     <g id="line2d_130">
      <g>
       <path class="k1" d="M 0 0 L 0 2" transform="translate(285.95 683.5)"/>
      </g>
     </g>
    </g>
    <g id="xtick_77">
     <g id="line2d_131">
      <g>
       <path class="k1" d="M 0 0 L 0 2" transform="translate(293.24 683.5)"/>
      </g>
     </g>
    </g>
    <g id="xtick_78">
     <g id="line2d_132">
      <g>
       <path class="k1" d="M 0 0 L 0 2" transform="translate(300.53 683.5)"/>
      </g>
     </g>
    </g>
    <g id="xtick_79">
     <g id="line2d_133">
      <g>
       <path class="k1" d="M 0 0 L 0 2" transform="translate(315.11 683.5)"/>
      </g>
     </g>
    </g>
    <g id="xtick_80">
     <g id="line2d_134">
      <g>
       <path class="k1" d="M 0 0 L 0 2" transform="translate(322.39 683.5)"/>
      </g>
     </g>
    </g>
    <g id="xtick_81">
     <g id="line2d_135">
      <g>
       <path class="k1" d="M 0 0 L 0 2" transform="translate(329.68 683.5)"/>
      </g>
     </g>
    </g>
    <g id="xtick_82">
     <g id="line2d_136">
      <g>
       <path class="k1" d="M 0 0 L 0 2" transform="translate(336.97 683.5)"/>
      </g>
     </g>
    </g>
    <g id="text_29">
     <text style="font-size: 10px; font-family: 'DejaVu Sans', 'Liberation Sans', sans-serif; text-anchor: middle" x="194.92" y="712.54"  transform="rotate(0 194.92 712.54)">Days since Explosion</text>
    </g>
   </g>
   <g id="matplotlib.axis_4">
    <g id="ytick_7">
     <g id="line2d_137">
      <path d="M 45.51 665.16 L 344.33 665.16" clip-path="url(#p862bfe7490)" style="fill: none; stroke-dasharray: 1,1.65; stroke-dashoffset: 0; stroke: #a8a8a8"/>
     </g>
     <g id="line2d_138">
      <g>
       <path class="k0" d="M 0 0 L -3.5 0" transform="translate(45.51 665.16)"/>
      </g>
     </g>
     <g id="text_30">
      <text style="font-size: 10px; font-family: 'DejaVu Sans', 'Liberation Sans', sans-serif; text-anchor: end" x="38.51" y="668.96"  transform="rotate(0 38.51 668.96)">−0.4</text>
     </g>
    </g>
    <g id="ytick_8">
     <g id="line2d_139">
      <path d="M 45.51 628.33 L 344.33 628.33" clip-path="url(#p862bfe7490)" style="fill: none; stroke-dasharray: 1,1.65; stroke-dashoffset: 0; stroke: #a8a8a8"/>
     </g>
     <g id="line2d_140">
      <g>
       <path class="k0" d="M 0 0 L -3.5 0" transform="translate(45.51 628.33)"/>
      </g>
     </g>
     <g id="text_31">
      <text style="font-size: 10px; font-family: 'DejaVu Sans', 'Liberation Sans', sans-serif; text-anchor: end" x="38.51" y="632.13"  transform="rotate(0 38.51 632.13)">−0.2</text>
     </g>
    </g>
    <g id="ytick_9">
     <g id="line2d_141">
      <path d="M 45.51 591.51 L 344.33 591.51" clip-path="url(#p862bfe7490)" style="fill: none; stroke-dasharray: 1,1.65; stroke-dashoffset: 0; stroke: #a8a8a8"/>
     </g>
     <g id="line2d_142">
      <g>
       <path class="k0" d="M 0 0 L -3.5 0" transform="translate(45.51 591.51)"/>
      </g>
     </g>
     <g id="text_32">
      <text style="font-size: 10px; font-family: 'DejaVu Sans', 'Liberation Sans', sans-serif; text-anchor: end" x="38.51" y="595.31"  transform="rotate(0 38.51 595.31)">0.0</text>
     </g>
    </g>
    <g id="ytick_10">
     <g id="line2d_143">
      <path d="M 45.51 554.68 L 344.33 554.68" clip-path="url(#p862bfe7490)" style="fill: none; stroke-dasharray: 1,1.65; stroke-dashoffset: 0; stroke: #a8a8a8"/>
     </g>
     <g id="line2d_144">
      <g>
       <path class="k0" d="M 0 0 L -3.5 0" transform="translate(45.51 554.68)"/>
      </g>
     </g>
     <g id="text_33">
      <text style="font-size: 10px; font-family: 'DejaVu Sans', 'Liberation Sans', sans-serif; text-anchor: end" x="38.51" y="558.48"  transform="rotate(0 38.51 558.48)">0.2</text>
     </g>
    </g>
    <g id="ytick_11">
     <g id="line2d_145">
      <path d="M 45.51 517.85 L 344.33 517.85" clip-path="url(#p862bfe7490)" style="fill: none; stroke-dasharray: 1,1.65; stroke-dashoffset: 0; stroke: #a8a8a8"/>
     </g>
     <g id="line2d_146">
      <g>
       <path class="k0" d="M 0 0 L -3.5 0" transform="translate(45.51 517.85)"/>
      </g>
     </g>
     <g id="text_34">
      <text style="font-size: 10px; font-family: 'DejaVu Sans', 'Liberation Sans', sans-serif; text-anchor: end" x="38.51" y="521.65"  transform="rotate(0 38.51 521.65)">0.4</text>
     </g>
    </g>
    <g id="ytick_12">
     <g id="line2d_147">
      <path d="M 45.51 481.02 L 344.33 481.02" clip-path="url(#p862bfe7490)" style="fill: none; stroke-dasharray: 1,1.65; stroke-dashoffset: 0; stroke: #a8a8a8"/>
     </g>
     <g id="line2d_148">
      <g>
       <path class="k0" d="M 0 0 L -3.5 0" transform="translate(45.51 481.02)"/>
      </g>
     </g>
     <g id="text_35">
      <text style="font-size: 10px; font-family: 'DejaVu Sans', 'Liberation Sans', sans-serif; text-anchor: end" x="38.51" y="484.82"  transform="rotate(0 38.51 484.82)">0.6</text>
     </g>
    </g>
    <g id="ytick_13">
     <g id="line2d_149">
      <path d="M 45.51 444.2 L 344.33 444.2" clip-path="url(#p862bfe7490)" style="fill: none; stroke-dasharray: 1,1.65; stroke-dashoffset: 0; stroke: #a8a8a8"/>
     </g>
     <g id="line2d_150">
      <g>
       <path class="k0" d="M 0 0 L -3.5 0" transform="translate(45.51 444.2)"/>
      </g>
     </g>
     <g id="text_36">
      <text style="font-size: 10px; font-family: 'DejaVu Sans', 'Liberation Sans', sans-serif; text-anchor: end" x="38.51" y="447.99"  transform="rotate(0 38.51 447.99)">0.8</text>
     </g>
    </g>
    <g id="ytick_14">
     <g id="line2d_151">
      <path d="M 45.51 407.37 L 344.33 407.37" clip-path="url(#p862bfe7490)" style="fill: none; stroke-dasharray: 1,1.65; stroke-dashoffset: 0; stroke: #a8a8a8"/>
     </g>
     <g id="line2d_152">
      <g>
       <path class="k0" d="M 0 0 L -3.5 0" transform="translate(45.51 407.37)"/>
      </g>
     </g>
     <g id="text_37">
      <text style="font-size: 10px; font-family: 'DejaVu Sans', 'Liberation Sans', sans-serif; text-anchor: end" x="38.51" y="411.17"  transform="rotate(0 38.51 411.17)">1.0</text>
     </g>
    </g>
    <g id="ytick_15">
     <g id="line2d_153">
      <path d="M 45.51 370.54 L 344.33 370.54" clip-path="url(#p862bfe7490)" style="fill: none; stroke-dasharray: 1,1.65; stroke-dashoffset: 0; stroke: #a8a8a8"/>
     </g>
     <g id="line2d_154">
      <g>
       <path class="k0" d="M 0 0 L -3.5 0" transform="translate(45.51 370.54)"/>
      </g>
     </g>
     <g id="text_38">
      <text style="font-size: 10px; font-family: 'DejaVu Sans', 'Liberation Sans', sans-serif; text-anchor: end" x="38.51" y="374.34"  transform="rotate(0 38.51 374.34)">1.2</text>
     </g>
    </g>
    <g id="ytick_16">
     <g id="line2d_155">
      <g>
       <path class="k1" d="M 0 0 L -2 0" transform="translate(45.51 674.37)"/>
      </g>
     </g>
    </g>
    <g id="ytick_17">
     <g id="line2d_156">
      <g>
       <path class="k1" d="M 0 0 L -2 0" transform="translate(45.51 655.95)"/>
      </g>
     </g>
    </g>
    <g id="ytick_18">
     <g id="line2d_157">
      <g>
       <path class="k1" d="M 0 0 L -2 0" transform="translate(45.51 646.75)"/>
      </g>
     </g>
    </g>
    <g id="ytick_19">
     <g id="line2d_158">
      <g>
       <path class="k1" d="M 0 0 L -2 0" transform="translate(45.51 637.54)"/>
      </g>
     </g>
    </g>
    <g id="ytick_20">
     <g id="line2d_159">
      <g>
       <path class="k1" d="M 0 0 L -2 0" transform="translate(45.51 619.13)"/>
      </g>
     </g>
    </g>
    <g id="ytick_21">
     <g id="line2d_160">
      <g>
       <path class="k1" d="M 0 0 L -2 0" transform="translate(45.51 609.92)"/>
      </g>
     </g>
    </g>
    <g id="ytick_22">
     <g id="line2d_161">
      <g>
       <path class="k1" d="M 0 0 L -2 0" transform="translate(45.51 600.71)"/>
      </g>
     </g>
    </g>
    <g id="ytick_23">
     <g id="line2d_162">
      <g>
       <path class="k1" d="M 0 0 L -2 0" transform="translate(45.51 582.3)"/>
      </g>
     </g>
    </g>
    <g id="ytick_24">
     <g id="line2d_163">
      <g>
       <path class="k1" d="M 0 0 L -2 0" transform="translate(45.51 573.09)"/>
      </g>
     </g>
    </g>
    <g id="ytick_25">
     <g id="line2d_164">
      <g>
       <path class="k1" d="M 0 0 L -2 0" transform="translate(45.51 563.89)"/>
      </g>
     </g>
    </g>
    <g id="ytick_26">
     <g id="line2d_165">
      <g>
       <path class="k1" d="M 0 0 L -2 0" transform="translate(45.51 545.47)"/>
      </g>
     </g>
    </g>
    <g id="ytick_27">
     <g id="line2d_166">
      <g>
       <path class="k1" d="M 0 0 L -2 0" transform="translate(45.51 536.26)"/>
      </g>
     </g>
    </g>
    <g id="ytick_28">
     <g id="line2d_167">
      <g>
       <path class="k1" d="M 0 0 L -2 0" transform="translate(45.51 527.06)"/>
      </g>
     </g>
    </g>
    <g id="ytick_29">
     <g id="line2d_168">
      <g>
       <path class="k1" d="M 0 0 L -2 0" transform="translate(45.51 508.64)"/>
      </g>
     </g>
    </g>
    <g id="ytick_30">
     <g id="line2d_169">
      <g>
       <path class="k1" d="M 0 0 L -2 0" transform="translate(45.51 499.44)"/>
      </g>
     </g>
    </g>
    <g id="ytick_31">
     <g id="line2d_170">
      <g>
       <path class="k1" d="M 0 0 L -2 0" transform="translate(45.51 490.23)"/>
      </g>
     </g>
    </g>
    <g id="ytick_32">
     <g id="line2d_171">
      <g>
       <path class="k1" d="M 0 0 L -2 0" transform="translate(45.51 471.82)"/>
      </g>
     </g>
    </g>
    <g id="ytick_33">
     <g id="line2d_172">
      <g>
       <path class="k1" d="M 0 0 L -2 0" transform="translate(45.51 462.61)"/>
      </g>
     </g>
    </g>
    <g id="ytick_34">
     <g id="line2d_173">
      <g>
       <path class="k1" d="M 0 0 L -2 0" transform="translate(45.51 453.4)"/>
      </g>
     </g>
    </g>
    <g id="ytick_35">
     <g id="line2d_174">
      <g>
       <path class="k1" d="M 0 0 L -2 0" transform="translate(45.51 434.99)"/>
      </g>
     </g>
    </g>
    <g id="ytick_36">
     <g id="line2d_175">
      <g>
       <path class="k1" d="M 0 0 L -2 0" transform="translate(45.51 425.78)"/>
      </g>
     </g>
    </g>
    <g id="ytick_37">
     <g id="line2d_176">
      <g>
       <path class="k1" d="M 0 0 L -2 0" transform="translate(45.51 416.57)"/>
      </g>
     </g>
    </g>
    <g id="ytick_38">
     <g id="line2d_177">
      <g>
       <path class="k1" d="M 0 0 L -2 0" transform="translate(45.51 398.16)"/>
      </g>
     </g>
    </g>
    <g id="ytick_39">
     <g id="line2d_178">
      <g>
       <path class="k1" d="M 0 0 L -2 0" transform="translate(45.51 388.95)"/>
      </g>
     </g>
    </g>
    <g id="ytick_40">
     <g id="line2d_179">
      <g>
       <path class="k1" d="M 0 0 L -2 0" transform="translate(45.51 379.75)"/>
      </g>
     </g>
    </g>
    <g id="text_39">
     <!-- $(B\hspace{0.12}-\hspace{0.12}V)_0$ -->
     <g transform="translate(8.136507 547.520772) rotate(-90)">
      <text>
       <tspan x="0" y="-0.41" style="font-size: 10px; font-family: 'DejaVu Sans', 'Liberation Sans', sans-serif">(</tspan>
       <tspan x="3.9" y="-0.41" style="font-style: oblique; font-size: 10px; font-family: 'DejaVu Sans', 'Liberation Sans', sans-serif">B</tspan>
       <tspan x="13.88" y="-0.41" style="font-size: 10px; font-family: 'DejaVu Sans', 'Liberation Sans', sans-serif">−</tspan>
       <tspan x="25.38" y="-0.41" style="font-style: oblique; font-size: 10px; font-family: 'DejaVu Sans', 'Liberation Sans', sans-serif">V</tspan>
       <tspan x="32.22" y="-0.41" style="font-size: 10px; font-family: 'DejaVu Sans', 'Liberation Sans', sans-serif">)</tspan>
       <tspan x="36.21" y="1.23" style="font-size: 7px; font-family: 'DejaVu Sans', 'Liberation Sans', sans-serif">0</tspan>
      </text>
     </g>
    </g>
   </g>
   <g id="line2d_180">
    <path d="M 82.72 545.91 L 104.05 512.65 L 140.65 482.81 L 179.75 488.76 L 201.47 634.18" clip-path="url(#p862bfe7490)" style="fill: none; stroke-dasharray: 5.55,2.4; stroke-dashoffset: 0; stroke: #ff0000; stroke-opacity: 0.5; stroke-width: 1.5"/>
    <g clip-path="url(#p862bfe7490)">
     <path class="k2" d="M 3 0 L -3 -3 L -3 3 z" transform="translate(82.72 545.91)"/>
     <path class="k2" d="M 3 0 L -3 -3 L -3 3 z" transform="translate(104.05 512.65)"/>
     <path class="k2" d="M 3 0 L -3 -3 L -3 3 z" transform="translate(140.65 482.81)"/>
     <path class="k2" d="M 3 0 L -3 -3 L -3 3 z" transform="translate(179.75 488.76)"/>
     <path class="k2" d="M 3 0 L -3 -3 L -3 3 z" transform="translate(201.47 634.18)"/>
    </g>
   </g>
   <g id="line2d_181">
    <g clip-path="url(#p862bfe7490)">
     <circle class="k3" cx="52.74" cy="497.23" r="3"/>
     <circle class="k3" cx="57.86" cy="494.88" r="3"/>
     <circle class="k3" cx="55.48" cy="511.48" r="3"/>
     <circle class="k3" cx="60" cy="512.65" r="3"/>
     <circle class="k3" cx="64.42" cy="524.08" r="3"/>
     <circle class="k3" cx="73.82" cy="489.36" r="3"/>
     <circle class="k3" cx="78.16" cy="473.73" r="3"/>
     <circle class="k3" cx="86.92" cy="462.91" r="3"/>
     <circle class="k3" cx="93.4" cy="481.67" r="3"/>
     <circle class="k3" cx="97.03" cy="469.5" r="3"/>
     <circle class="k3" cx="99.17" cy="460.17" r="3"/>
     <circle class="k3" cx="101.23" cy="458.64" r="3"/>
     <circle class="k3" cx="103.51" cy="502.4" r="3"/>
     <circle class="k3" cx="106.43" cy="527.54" r="3"/>
     <circle class="k3" cx="113.77" cy="488.94" r="3"/>
     <circle class="k3" cx="115.98" cy="438.48" r="3"/>
     <circle class="k3" cx="120.36" cy="458.1" r="3"/>
     <circle class="k3" cx="123.13" cy="442.26" r="3"/>
     <circle class="k3" cx="134.74" cy="512.44" r="3"/>
     <circle class="k3" cx="136.81" cy="475.55" r="3"/>
     <circle class="k3" cx="140.58" cy="473.16" r="3"/>
     <circle class="k3" cx="145.78" cy="428.47" r="3"/>
     <circle class="k3" cx="150.87" cy="466.04" r="3"/>
     <circle class="k3" cx="154.65" cy="472.09" r="3"/>
    </g>
   </g>
   <g id="line2d_182">
    <g clip-path="url(#p862bfe7490)">
     <path class="k4" d="M -3 3 L 3 3 L 3 -3 L -3 -3 z" transform="translate(86.07 559.98)"/>
     <path class="k4" d="M -3 3 L 3 3 L 3 -3 L -3 -3 z" transform="translate(93.4 543.38)"/>
     <path class="k4" d="M -3 3 L 3 3 L 3 -3 L -3 -3 z" transform="translate(97.18 538.04)"/>
     <path class="k4" d="M -3 3 L 3 3 L 3 -3 L -3 -3 z" transform="translate(106.43 514.47)"/>
     <path class="k4" d="M -3 3 L 3 3 L 3 -3 L -3 -3 z" transform="translate(109.6 503.57)"/>
     <path class="k4" d="M -3 3 L 3 3 L 3 -3 L -3 -3 z" transform="translate(118.22 499.09)"/>
     <path class="k4" d="M -3 3 L 3 3 L 3 -3 L -3 -3 z" transform="translate(120.93 459.6)"/>
     <path class="k4" d="M -3 3 L 3 3 L 3 -3 L -3 -3 z" transform="translate(125.52 474.23)"/>
     <path class="k4" d="M -3 3 L 3 3 L 3 -3 L -3 -3 z" transform="translate(126.34 437.09)"/>
     <path class="k4" d="M -3 3 L 3 3 L 3 -3 L -3 -3 z" transform="translate(128.62 413.06)"/>
     <path class="k4" d="M -3 3 L 3 3 L 3 -3 L -3 -3 z" transform="translate(132.18 419.32)"/>
     <path class="k4" d="M -3 3 L 3 3 L 3 -3 L -3 -3 z" transform="translate(137.23 390.8)"/>
     <path class="k4" d="M -3 3 L 3 3 L 3 -3 L -3 -3 z" transform="translate(141.61 420.93)"/>
     <path class="k4" d="M -3 3 L 3 3 L 3 -3 L -3 -3 z" transform="translate(147.38 405.33)"/>
     <path class="k4" d="M -3 3 L 3 3 L 3 -3 L -3 -3 z" transform="translate(158.42 415.01)"/>
     <path class="k4" d="M -3 3 L 3 3 L 3 -3 L -3 -3 z" transform="translate(167.25 384.53)"/>
     <path class="k4" d="M -3 3 L 3 3 L 3 -3 L -3 -3 z" transform="translate(183.95 392.08)"/>
    </g>
   </g>
   <g id="line2d_183">
    <path d="M 67.73 526.74 L 69.72 525.53 L 71.29 524.35 L 72.46 522.39 L 73.64 523.57 L 75.24 525.13 L 76.81 524.74 L 79.19 523.18 L 80.37 521.57 L 82.33 523.18 L 83.93 524.74 L 86.28 522.39 L 87.88 525.53 L 89.45 523.18 L 90.62 524.35 L 92.23 519.22 L 93.4 522.39 L 94.97 525.92 L 96.57 525.53 L 101.31 518.44 L 106.43 518.44 L 108.39 519.61 L 110.78 520.01 L 113.13 519.61 L 128.26 522.61 L 146.56 523.14 L 148.95 517.76 L 149.8 520.97 L 153.04 521.54 L 156.07 524.21 L 164.87 522.61 L 167.04 525.28 L 170.81 524.21 L 172.42 517.23 L 171.35 530.12 L 177.79 526.91 L 179.43 523.67 L 180.28 529.58 L 197.73 528.84" clip-path="url(#p862bfe7490)" style="fill: none; stroke-dasharray: 5.55,2.4; stroke-dashoffset: 0; stroke: #008000; stroke-opacity: 0.5; stroke-width: 1.5"/>
    <g clip-path="url(#p862bfe7490)">
     <path class="k5" d="M -3 4.5 L 0 0 L 3 4.5 z" transform="translate(67.73 526.74)"/>
     <path class="k5" d="M -3 4.5 L 0 0 L 3 4.5 z" transform="translate(69.72 525.53)"/>
     <path class="k5" d="M -3 4.5 L 0 0 L 3 4.5 z" transform="translate(71.29 524.35)"/>
     <path class="k5" d="M -3 4.5 L 0 0 L 3 4.5 z" transform="translate(72.46 522.39)"/>
     <path class="k5" d="M -3 4.5 L 0 0 L 3 4.5 z" transform="translate(73.64 523.57)"/>
     <path class="k5" d="M -3 4.5 L 0 0 L 3 4.5 z" transform="translate(75.24 525.13)"/>
     <path class="k5" d="M -3 4.5 L 0 0 L 3 4.5 z" transform="translate(76.81 524.74)"/>
     <path class="k5" d="M -3 4.5 L 0 0 L 3 4.5 z" transform="translate(79.19 523.18)"/>
     <path class="k5" d="M -3 4.5 L 0 0 L 3 4.5 z" transform="translate(80.37 521.57)"/>
     <path class="k5" d="M -3 4.5 L 0 0 L 3 4.5 z" transform="translate(82.33 523.18)"/>
     <path class="k5" d="M -3 4.5 L 0 0 L 3 4.5 z" transform="translate(83.93 524.74)"/>
     <path class="k5" d="M -3 4.5 L 0 0 L 3 4.5 z" transform="translate(86.28 522.39)"/>
     <path class="k5" d="M -3 4.5 L 0 0 L 3 4.5 z" transform="translate(87.88 525.53)"/>
     <path class="k5" d="M -3 4.5 L 0 0 L 3 4.5 z" transform="translate(89.45 523.18)"/>
     <path class="k5" d="M -3 4.5 L 0 0 L 3 4.5 z" transform="translate(90.62 524.35)"/>
     <path class="k5" d="M -3 4.5 L 0 0 L 3 4.5 z" transform="translate(92.23 519.22)"/>
     <path class="k5" d="M -3 4.5 L 0 0 L 3 4.5 z" transform="translate(93.4 522.39)"/>
     <path class="k5" d="M -3 4.5 L 0 0 L 3 4.5 z" transform="translate(94.97 525.92)"/>
     <path class="k5" d="M -3 4.5 L 0 0 L 3 4.5 z" transform="translate(96.57 525.53)"/>
     <path class="k5" d="M -3 4.5 L 0 0 L 3 4.5 z" transform="translate(101.31 518.44)"/>
     <path class="k5" d="M -3 4.5 L 0 0 L 3 4.5 z" transform="translate(106.43 518.44)"/>
     <path class="k5" d="M -3 4.5 L 0 0 L 3 4.5 z" transform="translate(108.39 519.61)"/>
     <path class="k5" d="M -3 4.5 L 0 0 L 3 4.5 z" transform="translate(110.78 520.01)"/>
     <path class="k5" d="M -3 4.5 L 0 0 L 3 4.5 z" transform="translate(113.13 519.61)"/>
     <path class="k5" d="M -3 4.5 L 0 0 L 3 4.5 z" transform="translate(128.26 522.61)"/>
     <path class="k5" d="M -3 4.5 L 0 0 L 3 4.5 z" transform="translate(146.56 523.14)"/>
     <path class="k5" d="M -3 4.5 L 0 0 L 3 4.5 z" transform="translate(148.95 517.76)"/>
     <path class="k5" d="M -3 4.5 L 0 0 L 3 4.5 z" transform="translate(149.8 520.97)"/>
     <path class="k5" d="M -3 4.5 L 0 0 L 3 4.5 z" transform="translate(153.04 521.54)"/>
     <path class="k5" d="M -3 4.5 L 0 0 L 3 4.5 z" transform="translate(156.07 524.21)"/>
     <path class="k5" d="M -3 4.5 L 0 0 L 3 4.5 z" transform="translate(164.87 522.61)"/>
     <path class="k5" d="M -3 4.5 L 0 0 L 3 4.5 z" transform="translate(167.04 525.28)"/>
     <path class="k5" d="M -3 4.5 L 0 0 L 3 4.5 z" transform="translate(170.81 524.21)"/>
     <path class="k5" d="M -3 4.5 L 0 0 L 3 4.5 z" transform="translate(172.42 517.23)"/>
     <path class="k5" d="M -3 4.5 L 0 0 L 3 4.5 z" transform="translate(171.35 530.12)"/>
     <path class="k5" d="M -3 4.5 L 0 0 L 3 4.5 z" transform="translate(177.79 526.91)"/>
     <path class="k5" d="M -3 4.5 L 0 0 L 3 4.5 z" transform="translate(179.43 523.67)"/>
     <path class="k5" d="M -3 4.5 L 0 0 L 3 4.5 z" transform="translate(180.28 529.58)"/>
     <path class="k5" d="M -3 4.5 L 0 0 L 3 4.5 z" transform="translate(197.73 528.84)"/>
    </g>
   </g>
   <g id="line2d_184">
    <g clip-path="url(#p862bfe7490)">
     <path class="k6" d="M 0 -3 L -0.67 -0.93 L -2.85 -0.93 L -1.09 0.35 L -1.76 2.43 L -0 1.15 L 1.76 2.43 L 1.09 0.35 L 2.85 -0.93 L 0.67 -0.93 z" transform="translate(81.61 611.86)"/>
     <path class="k6" d="M 0 -3 L -0.67 -0.93 L -2.85 -0.93 L -1.09 0.35 L -1.76 2.43 L -0 1.15 L 1.76 2.43 L 1.09 0.35 L 2.85 -0.93 L 0.67 -0.93 z" transform="translate(83.22 624.75)"/>
     <path class="k6" d="M 0 -3 L -0.67 -0.93 L -2.85 -0.93 L -1.09 0.35 L -1.76 2.43 L -0 1.15 L 1.76 2.43 L 1.09 0.35 L 2.85 -0.93 L 0.67 -0.93 z" transform="translate(86.1 615.6)"/>
     <path class="k6" d="M 0 -3 L -0.67 -0.93 L -2.85 -0.93 L -1.09 0.35 L -1.76 2.43 L -0 1.15 L 1.76 2.43 L 1.09 0.35 L 2.85 -0.93 L 0.67 -0.93 z" transform="translate(92.44 558.55)"/>
     <path class="k6" d="M 0 -3 L -0.67 -0.93 L -2.85 -0.93 L -1.09 0.35 L -1.76 2.43 L -0 1.15 L 1.76 2.43 L 1.09 0.35 L 2.85 -0.93 L 0.67 -0.93 z" transform="translate(96.36 617.45)"/>
     <path class="k6" d="M 0 -3 L -0.67 -0.93 L -2.85 -0.93 L -1.09 0.35 L -1.76 2.43 L -0 1.15 L 1.76 2.43 L 1.09 0.35 L 2.85 -0.93 L 0.67 -0.93 z" transform="translate(100.31 617.63)"/>
     <path class="k6" d="M 0 -3 L -0.67 -0.93 L -2.85 -0.93 L -1.09 0.35 L -1.76 2.43 L -0 1.15 L 1.76 2.43 L 1.09 0.35 L 2.85 -0.93 L 0.67 -0.93 z" transform="translate(101.98 612.11)"/>
     <path class="k6" d="M 0 -3 L -0.67 -0.93 L -2.85 -0.93 L -1.09 0.35 L -1.76 2.43 L -0 1.15 L 1.76 2.43 L 1.09 0.35 L 2.85 -0.93 L 0.67 -0.93 z" transform="translate(104.97 609.97)"/>
     <path class="k6" d="M 0 -3 L -0.67 -0.93 L -2.85 -0.93 L -1.09 0.35 L -1.76 2.43 L -0 1.15 L 1.76 2.43 L 1.09 0.35 L 2.85 -0.93 L 0.67 -0.93 z" transform="translate(110.28 598.97)"/>
     <path class="k6" d="M 0 -3 L -0.67 -0.93 L -2.85 -0.93 L -1.09 0.35 L -1.76 2.43 L -0 1.15 L 1.76 2.43 L 1.09 0.35 L 2.85 -0.93 L 0.67 -0.93 z" transform="translate(119.18 580.56)"/>
     <path class="k6" d="M 0 -3 L -0.67 -0.93 L -2.85 -0.93 L -1.09 0.35 L -1.76 2.43 L -0 1.15 L 1.76 2.43 L 1.09 0.35 L 2.85 -0.93 L 0.67 -0.93 z" transform="translate(125.59 554.74)"/>
     <path class="k6" d="M 0 -3 L -0.67 -0.93 L -2.85 -0.93 L -1.09 0.35 L -1.76 2.43 L -0 1.15 L 1.76 2.43 L 1.09 0.35 L 2.85 -0.93 L 0.67 -0.93 z" transform="translate(127.94 549.58)"/>
     <path class="k6" d="M 0 -3 L -0.67 -0.93 L -2.85 -0.93 L -1.09 0.35 L -1.76 2.43 L -0 1.15 L 1.76 2.43 L 1.09 0.35 L 2.85 -0.93 L 0.67 -0.93 z" transform="translate(132.57 520.52)"/>
     <path class="k6" d="M 0 -3 L -0.67 -0.93 L -2.85 -0.93 L -1.09 0.35 L -1.76 2.43 L -0 1.15 L 1.76 2.43 L 1.09 0.35 L 2.85 -0.93 L 0.67 -0.93 z" transform="translate(143.04 455.39)"/>
     <path class="k6" d="M 0 -3 L -0.67 -0.93 L -2.85 -0.93 L -1.09 0.35 L -1.76 2.43 L -0 1.15 L 1.76 2.43 L 1.09 0.35 L 2.85 -0.93 L 0.67 -0.93 z" transform="translate(146.07 438.91)"/>
     <path class="k6" d="M 0 -3 L -0.67 -0.93 L -2.85 -0.93 L -1.09 0.35 L -1.76 2.43 L -0 1.15 L 1.76 2.43 L 1.09 0.35 L 2.85 -0.93 L 0.67 -0.93 z" transform="translate(155.18 523.73)"/>
    </g>
   </g>
   <g id="line2d_185">
    <g clip-path="url(#p862bfe7490)">
     <path class="k7" d="M -3 3 L 3 -3 M -3 -3 L 3 3" transform="translate(52.91 466.9)"/>
     <path class="k7" d="M -3 3 L 3 -3 M -3 -3 L 3 3" transform="translate(53.48 466.9)"/>
     <path class="k7" d="M -3 3 L 3 -3 M -3 -3 L 3 3" transform="translate(54.05 466.9)"/>
     <path class="k7" d="M -3 3 L 3 -3 M -3 -3 L 3 3" transform="translate(54.62 466.9)"/>
     <path class="k7" d="M -3 3 L 3 -3 M -3 -3 L 3 3" transform="translate(55.19 466.9)"/>
     <path class="k7" d="M -3 3 L 3 -3 M -3 -3 L 3 3" transform="translate(55.76 466.9)"/>
     <path class="k7" d="M -3 3 L 3 -3 M -3 -3 L 3 3" transform="translate(56.33 466.9)"/>
     <path class="k7" d="M -3 3 L 3 -3 M -3 -3 L 3 3" transform="translate(64.66 466.9)"/>
     <path class="k7" d="M -3 3 L 3 -3 M -3 -3 L 3 3" transform="translate(65.16 466.9)"/>
     <path class="k7" d="M -3 3 L 3 -3 M -3 -3 L 3 3" transform="translate(65.66 466.9)"/>
     <path class="k7" d="M -3 3 L 3 -3 M -3 -3 L 3 3" transform="translate(70.65 561.72)"/>
     <path class="k7" d="M -3 3 L 3 -3 M -3 -3 L 3 3" transform="translate(69.15 568.45)"/>
     <path class="k7" d="M -3 3 L 3 -3 M -3 -3 L 3 3" transform="translate(84.32 518.17)"/>
     <path class="k7" d="M -3 3 L 3 -3 M -3 -3 L 3 3" transform="translate(83.93 522.91)"/>
     <path class="k7" d="M -3 3 L 3 -3 M -3 -3 L 3 3" transform="translate(85.5 511.87)"/>
     <path class="k7" d="M -3 3 L 3 -3 M -3 -3 L 3 3" transform="translate(86.67 518.17)"/>
     <path class="k7" d="M -3 3 L 3 -3 M -3 -3 L 3 3" transform="translate(87.45 507.53)"/>
     <path class="k7" d="M -3 3 L 3 -3 M -3 -3 L 3 3" transform="translate(93.01 525.76)"/>
     <path class="k7" d="M -3 3 L 3 -3 M -3 -3 L 3 3" transform="translate(94.86 532.88)"/>
     <path class="k7" d="M -3 3 L 3 -3 M -3 -3 L 3 3" transform="translate(96.14 495.31)"/>
     <path class="k7" d="M -3 3 L 3 -3 M -3 -3 L 3 3" transform="translate(96.57 496.45)"/>
     <path class="k7" d="M -3 3 L 3 -3 M -3 -3 L 3 3" transform="translate(96.57 516.61)"/>
     <path class="k7" d="M -3 3 L 3 -3 M -3 -3 L 3 3" transform="translate(98.53 516.61)"/>
     <path class="k7" d="M -3 3 L 3 -3 M -3 -3 L 3 3" transform="translate(108.07 537.26)"/>
     <path class="k7" d="M -3 3 L 3 -3 M -3 -3 L 3 3" transform="translate(108.18 570.02)"/>
     <path class="k7" d="M -3 3 L 3 -3 M -3 -3 L 3 3" transform="translate(112.34 549.86)"/>
     <path class="k7" d="M -3 3 L 3 -3 M -3 -3 L 3 3" transform="translate(115.98 515.89)"/>
     <path class="k7" d="M -3 3 L 3 -3 M -3 -3 L 3 3" transform="translate(116.05 546.34)"/>
     <path class="k7" d="M -3 3 L 3 -3 M -3 -3 L 3 3" transform="translate(119.07 498.45)"/>
     <path class="k7" d="M -3 3 L 3 -3 M -3 -3 L 3 3" transform="translate(120.25 480.68)"/>
     <path class="k7" d="M -3 3 L 3 -3 M -3 -3 L 3 3" transform="translate(125.59 489.83)"/>
     <path class="k7" d="M -3 3 L 3 -3 M -3 -3 L 3 3" transform="translate(129.54 471.1)"/>
     <path class="k7" d="M -3 3 L 3 -3 M -3 -3 L 3 3" transform="translate(132.36 508.13)"/>
     <path class="k7" d="M -3 3 L 3 -3 M -3 -3 L 3 3" transform="translate(139.23 420.39)"/>
     <path class="k7" d="M -3 3 L 3 -3 M -3 -3 L 3 3" transform="translate(139.23 460.77)"/>
     <path class="k7" d="M -3 3 L 3 -3 M -3 -3 L 3 3" transform="translate(148.02 466.47)"/>
     <path class="k7" d="M -3 3 L 3 -3 M -3 -3 L 3 3" transform="translate(149.2 434.78)"/>
     <path class="k7" d="M -3 3 L 3 -3 M -3 -3 L 3 3" transform="translate(160.91 494.46)"/>
     <path class="k7" d="M -3 3 L 3 -3 M -3 -3 L 3 3" transform="translate(169.96 455.93)"/>
     <path class="k7" d="M -3 3 L 3 -3 M -3 -3 L 3 3" transform="translate(274.68 497.55)"/>
     <path class="k7" d="M -3 3 L 3 -3 M -3 -3 L 3 3" transform="translate(282.87 527.96)"/>
     <path class="k7" d="M -3 3 L 3 -3 M -3 -3 L 3 3" transform="translate(323.5 479.89)"/>
     <path class="k7" d="M -3 3 L 3 -3 M -3 -3 L 3 3" transform="translate(327.38 434.64)"/>
     <path class="k7" d="M -3 3 L 3 -3 M -3 -3 L 3 3" transform="translate(336.85 468.39)"/>
    </g>
   </g>
   <g id="line2d_186">
    <g clip-path="url(#p862bfe7490)">
     <path class="k8" d="M -1.5 3 L 0 1.5 L 1.5 3 L 3 1.5 L 1.5 0 L 3 -1.5 L 1.5 -3 L 0 -1.5 L -1.5 -3 L -3 -1.5 L -1.5 0 L -3 1.5 z" transform="translate(59.68 606.73)"/>
     <path class="k8" d="M -1.5 3 L 0 1.5 L 1.5 3 L 3 1.5 L 1.5 0 L 3 -1.5 L 1.5 -3 L 0 -1.5 L -1.5 -3 L -3 -1.5 L -1.5 0 L -3 1.5 z" transform="translate(58.29 616.99)"/>
     <path class="k8" d="M -1.5 3 L 0 1.5 L 1.5 3 L 3 1.5 L 1.5 0 L 3 -1.5 L 1.5 -3 L 0 -1.5 L -1.5 -3 L -3 -1.5 L -1.5 0 L -3 1.5 z" transform="translate(59.11 611.75)"/>
     <path class="k8" d="M -1.5 3 L 0 1.5 L 1.5 3 L 3 1.5 L 1.5 0 L 3 -1.5 L 1.5 -3 L 0 -1.5 L -1.5 -3 L -3 -1.5 L -1.5 0 L -3 1.5 z" transform="translate(60.64 623.5)"/>
     <path class="k8" d="M -1.5 3 L 0 1.5 L 1.5 3 L 3 1.5 L 1.5 0 L 3 -1.5 L 1.5 -3 L 0 -1.5 L -1.5 -3 L -3 -1.5 L -1.5 0 L -3 1.5 z" transform="translate(62.31 620.3)"/>
     <path class="k8" d="M -1.5 3 L 0 1.5 L 1.5 3 L 3 1.5 L 1.5 0 L 3 -1.5 L 1.5 -3 L 0 -1.5 L -1.5 -3 L -3 -1.5 L -1.5 0 L -3 1.5 z" transform="translate(68.55 628.2)"/>
     <path class="k8" d="M -1.5 3 L 0 1.5 L 1.5 3 L 3 1.5 L 1.5 0 L 3 -1.5 L 1.5 -3 L 0 -1.5 L -1.5 -3 L -3 -1.5 L -1.5 0 L -3 1.5 z" transform="translate(65.52 625.99)"/>
     <path class="k8" d="M -1.5 3 L 0 1.5 L 1.5 3 L 3 1.5 L 1.5 0 L 3 -1.5 L 1.5 -3 L 0 -1.5 L -1.5 -3 L -3 -1.5 L -1.5 0 L -3 1.5 z" transform="translate(70.43 607.66)"/>
     <path class="k8" d="M -1.5 3 L 0 1.5 L 1.5 3 L 3 1.5 L 1.5 0 L 3 -1.5 L 1.5 -3 L 0 -1.5 L -1.5 -3 L -3 -1.5 L -1.5 0 L -3 1.5 z" transform="translate(76.02 615.13)"/>
     <path class="k8" d="M -1.5 3 L 0 1.5 L 1.5 3 L 3 1.5 L 1.5 0 L 3 -1.5 L 1.5 -3 L 0 -1.5 L -1.5 -3 L -3 -1.5 L -1.5 0 L -3 1.5 z" transform="translate(68.12 572.23)"/>
     <path class="k8" d="M -1.5 3 L 0 1.5 L 1.5 3 L 3 1.5 L 1.5 0 L 3 -1.5 L 1.5 -3 L 0 -1.5 L -1.5 -3 L -3 -1.5 L -1.5 0 L -3 1.5 z" transform="translate(78.69 590.03)"/>
     <path class="k8" d="M -1.5 3 L 0 1.5 L 1.5 3 L 3 1.5 L 1.5 0 L 3 -1.5 L 1.5 -3 L 0 -1.5 L -1.5 -3 L -3 -1.5 L -1.5 0 L -3 1.5 z" transform="translate(79.41 591.81)"/>
     <path class="k8" d="M -1.5 3 L 0 1.5 L 1.5 3 L 3 1.5 L 1.5 0 L 3 -1.5 L 1.5 -3 L 0 -1.5 L -1.5 -3 L -3 -1.5 L -1.5 0 L -3 1.5 z" transform="translate(79.98 587.79)"/>
     <path class="k8" d="M -1.5 3 L 0 1.5 L 1.5 3 L 3 1.5 L 1.5 0 L 3 -1.5 L 1.5 -3 L 0 -1.5 L -1.5 -3 L -3 -1.5 L -1.5 0 L -3 1.5 z" transform="translate(78.37 593.95)"/>
     <path class="k8" d="M -1.5 3 L 0 1.5 L 1.5 3 L 3 1.5 L 1.5 0 L 3 -1.5 L 1.5 -3 L 0 -1.5 L -1.5 -3 L -3 -1.5 L -1.5 0 L -3 1.5 z" transform="translate(80.47 595.37)"/>
     <path class="k8" d="M -1.5 3 L 0 1.5 L 1.5 3 L 3 1.5 L 1.5 0 L 3 -1.5 L 1.5 -3 L 0 -1.5 L -1.5 -3 L -3 -1.5 L -1.5 0 L -3 1.5 z" transform="translate(87.88 583.83)"/>
     <path class="k8" d="M -1.5 3 L 0 1.5 L 1.5 3 L 3 1.5 L 1.5 0 L 3 -1.5 L 1.5 -3 L 0 -1.5 L -1.5 -3 L -3 -1.5 L -1.5 0 L -3 1.5 z" transform="translate(88.27 581.45)"/>
     <path class="k8" d="M -1.5 3 L 0 1.5 L 1.5 3 L 3 1.5 L 1.5 0 L 3 -1.5 L 1.5 -3 L 0 -1.5 L -1.5 -3 L -3 -1.5 L -1.5 0 L -3 1.5 z" transform="translate(89.73 582.55)"/>
     <path class="k8" d="M -1.5 3 L 0 1.5 L 1.5 3 L 3 1.5 L 1.5 0 L 3 -1.5 L 1.5 -3 L 0 -1.5 L -1.5 -3 L -3 -1.5 L -1.5 0 L -3 1.5 z" transform="translate(95.75 569.63)"/>
     <path class="k8" d="M -1.5 3 L 0 1.5 L 1.5 3 L 3 1.5 L 1.5 0 L 3 -1.5 L 1.5 -3 L 0 -1.5 L -1.5 -3 L -3 -1.5 L -1.5 0 L -3 1.5 z" transform="translate(98.92 564.89)"/>
     <path class="k8" d="M -1.5 3 L 0 1.5 L 1.5 3 L 3 1.5 L 1.5 0 L 3 -1.5 L 1.5 -3 L 0 -1.5 L -1.5 -3 L -3 -1.5 L -1.5 0 L -3 1.5 z" transform="translate(100.49 570.41)"/>
     <path class="k8" d="M -1.5 3 L 0 1.5 L 1.5 3 L 3 1.5 L 1.5 0 L 3 -1.5 L 1.5 -3 L 0 -1.5 L -1.5 -3 L -3 -1.5 L -1.5 0 L -3 1.5 z" transform="translate(102.09 564.11)"/>
     <path class="k8" d="M -1.5 3 L 0 1.5 L 1.5 3 L 3 1.5 L 1.5 0 L 3 -1.5 L 1.5 -3 L 0 -1.5 L -1.5 -3 L -3 -1.5 L -1.5 0 L -3 1.5 z" transform="translate(104.44 575.93)"/>
     <path class="k8" d="M -1.5 3 L 0 1.5 L 1.5 3 L 3 1.5 L 1.5 0 L 3 -1.5 L 1.5 -3 L 0 -1.5 L -1.5 -3 L -3 -1.5 L -1.5 0 L -3 1.5 z" transform="translate(102.55 574.01)"/>
     <path class="k8" d="M -1.5 3 L 0 1.5 L 1.5 3 L 3 1.5 L 1.5 0 L 3 -1.5 L 1.5 -3 L 0 -1.5 L -1.5 -3 L -3 -1.5 L -1.5 0 L -3 1.5 z" transform="translate(104.97 577.32)"/>
     <path class="k8" d="M -1.5 3 L 0 1.5 L 1.5 3 L 3 1.5 L 1.5 0 L 3 -1.5 L 1.5 -3 L 0 -1.5 L -1.5 -3 L -3 -1.5 L -1.5 0 L -3 1.5 z" transform="translate(103.62 551.93)"/>
     <path class="k8" d="M -1.5 3 L 0 1.5 L 1.5 3 L 3 1.5 L 1.5 0 L 3 -1.5 L 1.5 -3 L 0 -1.5 L -1.5 -3 L -3 -1.5 L -1.5 0 L -3 1.5 z" transform="translate(104.83 553.42)"/>
     <path class="k8" d="M -1.5 3 L 0 1.5 L 1.5 3 L 3 1.5 L 1.5 0 L 3 -1.5 L 1.5 -3 L 0 -1.5 L -1.5 -3 L -3 -1.5 L -1.5 0 L -3 1.5 z" transform="translate(106.11 554.78)"/>
     <path class="k8" d="M -1.5 3 L 0 1.5 L 1.5 3 L 3 1.5 L 1.5 0 L 3 -1.5 L 1.5 -3 L 0 -1.5 L -1.5 -3 L -3 -1.5 L -1.5 0 L -3 1.5 z" transform="translate(117.47 536.83)"/>
     <path class="k8" d="M -1.5 3 L 0 1.5 L 1.5 3 L 3 1.5 L 1.5 0 L 3 -1.5 L 1.5 -3 L 0 -1.5 L -1.5 -3 L -3 -1.5 L -1.5 0 L -3 1.5 z" transform="translate(122.6 539.61)"/>
     <path class="k8" d="M -1.5 3 L 0 1.5 L 1.5 3 L 3 1.5 L 1.5 0 L 3 -1.5 L 1.5 -3 L 0 -1.5 L -1.5 -3 L -3 -1.5 L -1.5 0 L -3 1.5 z" transform="translate(126.77 534.48)"/>
     <path class="k8" d="M -1.5 3 L 0 1.5 L 1.5 3 L 3 1.5 L 1.5 0 L 3 -1.5 L 1.5 -3 L 0 -1.5 L -1.5 -3 L -3 -1.5 L -1.5 0 L -3 1.5 z" transform="translate(128.26 536.12)"/>
     <path class="k8" d="M -1.5 3 L 0 1.5 L 1.5 3 L 3 1.5 L 1.5 0 L 3 -1.5 L 1.5 -3 L 0 -1.5 L -1.5 -3 L -3 -1.5 L -1.5 0 L -3 1.5 z" transform="translate(129.61 537.33)"/>
     <path class="k8" d="M -1.5 3 L 0 1.5 L 1.5 3 L 3 1.5 L 1.5 0 L 3 -1.5 L 1.5 -3 L 0 -1.5 L -1.5 -3 L -3 -1.5 L -1.5 0 L -3 1.5 z" transform="translate(142.26 535.05)"/>
     <path class="k8" d="M -1.5 3 L 0 1.5 L 1.5 3 L 3 1.5 L 1.5 0 L 3 -1.5 L 1.5 -3 L 0 -1.5 L -1.5 -3 L -3 -1.5 L -1.5 0 L -3 1.5 z" transform="translate(144.96 524.3)"/>
     <path class="k8" d="M -1.5 3 L 0 1.5 L 1.5 3 L 3 1.5 L 1.5 0 L 3 -1.5 L 1.5 -3 L 0 -1.5 L -1.5 -3 L -3 -1.5 L -1.5 0 L -3 1.5 z" transform="translate(149.91 548.01)"/>
     <path class="k8" d="M -1.5 3 L 0 1.5 L 1.5 3 L 3 1.5 L 1.5 0 L 3 -1.5 L 1.5 -3 L 0 -1.5 L -1.5 -3 L -3 -1.5 L -1.5 0 L -3 1.5 z" transform="translate(151.69 546.94)"/>
     <path class="k8" d="M -1.5 3 L 0 1.5 L 1.5 3 L 3 1.5 L 1.5 0 L 3 -1.5 L 1.5 -3 L 0 -1.5 L -1.5 -3 L -3 -1.5 L -1.5 0 L -3 1.5 z" transform="translate(158.42 551.75)"/>
     <path class="k8" d="M -1.5 3 L 0 1.5 L 1.5 3 L 3 1.5 L 1.5 0 L 3 -1.5 L 1.5 -3 L 0 -1.5 L -1.5 -3 L -3 -1.5 L -1.5 0 L -3 1.5 z" transform="translate(167.04 557.66)"/>
     <path class="k8" d="M -1.5 3 L 0 1.5 L 1.5 3 L 3 1.5 L 1.5 0 L 3 -1.5 L 1.5 -3 L 0 -1.5 L -1.5 -3 L -3 -1.5 L -1.5 0 L -3 1.5 z" transform="translate(225.22 574.01)"/>
    </g>
   </g>
   <g id="line2d_187">
    <g clip-path="url(#p862bfe7490)">
     <path class="k9" d="M -0 4.24 L 2.55 0 L 0 -4.24 L -2.55 -0 z" transform="translate(60.61 498.84)"/>
     <path class="k9" d="M -0 4.24 L 2.55 0 L 0 -4.24 L -2.55 -0 z" transform="translate(61.82 493.71)"/>
     <path class="k9" d="M -0 4.24 L 2.55 0 L 0 -4.24 L -2.55 -0 z" transform="translate(63.56 498.84)"/>
     <path class="k9" d="M -0 4.24 L 2.55 0 L 0 -4.24 L -2.55 -0 z" transform="translate(72.07 513.83)"/>
     <path class="k9" d="M -0 4.24 L 2.55 0 L 0 -4.24 L -2.55 -0 z" transform="translate(73.46 469.6)"/>
     <path class="k9" d="M -0 4.24 L 2.55 0 L 0 -4.24 L -2.55 -0 z" transform="translate(84.46 480.68)"/>
     <path class="k9" d="M -0 4.24 L 2.55 0 L 0 -4.24 L -2.55 -0 z" transform="translate(88.84 425.45)"/>
     <path class="k9" d="M -0 4.24 L 2.55 0 L 0 -4.24 L -2.55 -0 z" transform="translate(90.98 453.01)"/>
     <path class="k9" d="M -0 4.24 L 2.55 0 L 0 -4.24 L -2.55 -0 z" transform="translate(97.39 473.16)"/>
     <path class="k9" d="M -0 4.24 L 2.55 0 L 0 -4.24 L -2.55 -0 z" transform="translate(99.6 447.31)"/>
     <path class="k9" d="M -0 4.24 L 2.55 0 L 0 -4.24 L -2.55 -0 z" transform="translate(101.91 474.94)"/>
     <path class="k9" d="M -0 4.24 L 2.55 0 L 0 -4.24 L -2.55 -0 z" transform="translate(103.91 449.48)"/>
     <path class="k9" d="M -0 4.24 L 2.55 0 L 0 -4.24 L -2.55 -0 z" transform="translate(106.61 447.31)"/>
     <path class="k9" d="M -0 4.24 L 2.55 0 L 0 -4.24 L -2.55 -0 z" transform="translate(122.85 467.72)"/>
     <path class="k9" d="M -0 4.24 L 2.55 0 L 0 -4.24 L -2.55 -0 z" transform="translate(168.85 449.23)"/>
     <path class="k9" d="M -0 4.24 L 2.55 0 L 0 -4.24 L -2.55 -0 z" transform="translate(178.68 462.16)"/>
     <path class="k9" d="M -0 4.24 L 2.55 0 L 0 -4.24 L -2.55 -0 z" transform="translate(185.02 421.67)"/>
    </g>
   </g>
   <g id="line2d_188">
    <g clip-path="url(#p862bfe7490)">
     <circle class="k13" cx="58.93" cy="667.41" r="3"/>
     <circle class="k13" cx="60.14" cy="629.59" r="3"/>
     <circle class="k13" cx="61.57" cy="612.32" r="3"/>
     <circle class="k13" cx="63.42" cy="613.71" r="3"/>
     <circle class="k13" cx="64.34" cy="617.91" r="3"/>
     <circle class="k13" cx="67.16" cy="617.91" r="3"/>
     <circle class="k13" cx="71.36" cy="615.6" r="3"/>
     <circle class="k13" cx="72.75" cy="621.65" r="3"/>
     <circle class="k13" cx="69.29" cy="624.46" r="3"/>
     <circle class="k13" cx="67.16" cy="601.6" r="3"/>
     <circle class="k13" cx="69.69" cy="602.24" r="3"/>
     <circle class="k13" cx="72.28" cy="604.38" r="3"/>
     <circle class="k13" cx="77.88" cy="601.32" r="3"/>
     <circle class="k13" cx="75.56" cy="610.47" r="3"/>
     <circle class="k13" cx="88.77" cy="580.42" r="3"/>
     <circle class="k13" cx="98.46" cy="580.63" r="3"/>
     <circle class="k13" cx="91.83" cy="569.77" r="3"/>
     <circle class="k13" cx="99.56" cy="570.16" r="3"/>
     <circle class="k13" cx="94.43" cy="576.57" r="3"/>
     <circle class="k13" cx="98.28" cy="554.6" r="3"/>
     <circle class="k13" cx="98.28" cy="556.59" r="3"/>
     <circle class="k13" cx="109.99" cy="554.6" r="3"/>
     <circle class="k13" cx="107.36" cy="561.97" r="3"/>
     <circle class="k13" cx="104.05" cy="538.82" r="3"/>
     <circle class="k13" cx="104.05" cy="542.14" r="3"/>
     <circle class="k13" cx="109.99" cy="542.92" r="3"/>
     <circle class="k13" cx="112.74" cy="527.36" r="3"/>
     <circle class="k13" cx="115.91" cy="523.8" r="3"/>
     <circle class="k13" cx="121.89" cy="526.93" r="3"/>
     <circle class="k13" cx="124.27" cy="544.09" r="3"/>
     <circle class="k13" cx="127.73" cy="549.04" r="3"/>
     <circle class="k13" cx="134.74" cy="512.44" r="3"/>
     <circle class="k13" cx="132.04" cy="520.74" r="3"/>
     <circle class="k13" cx="137.63" cy="537.97" r="3"/>
     <circle class="k13" cx="143.68" cy="537.97" r="3"/>
     <circle class="k13" cx="134.96" cy="542.6" r="3"/>
     <circle class="k13" cx="150.55" cy="559.58" r="3"/>
     <circle class="k13" cx="256.74" cy="525.97" r="3"/>
     <circle class="k13" cx="268.52" cy="501.86" r="3"/>
     <circle class="k13" cx="272.26" cy="508.88" r="3"/>
     <circle class="k13" cx="312.04" cy="526.82" r="3"/>
     <circle class="k13" cx="256.74" cy="582.98" r="3"/>
     <circle class="k13" cx="304.13" cy="604.09" r="3"/>
    </g>
   </g>
   <g id="patch_9">
    <path d="M 45.51 683.5 L 45.51 370.54" style="fill: none; stroke: #000000; stroke-linejoin: miter; stroke-linecap: square"/>
   </g>
   <g id="patch_10">
    <path d="M 344.33 683.5 L 344.33 370.54" style="fill: none; stroke: #000000; stroke-linejoin: miter; stroke-linecap: square"/>
   </g>
   <g id="patch_11">
    <path d="M 45.51 683.5 L 344.33 683.5" style="fill: none; stroke: #000000; stroke-linejoin: miter; stroke-linecap: square"/>
   </g>
   <g id="patch_12">
    <path d="M 45.51 370.54 L 344.33 370.54" style="fill: none; stroke: #000000; stroke-linejoin: miter; stroke-linecap: square"/>
   </g>
  </g>
 </g>
 <defs>
  <clipPath id="p0af4753f2d">
   <rect x="45.51" y="42.94" width="298.824926" height="313.175074"/>
  </clipPath>
  <clipPath id="p862bfe7490">
   <rect x="45.51" y="370.54" width="298.824926" height="312.961424"/>
  </clipPath>
 </defs>
</svg>

</body></html>
